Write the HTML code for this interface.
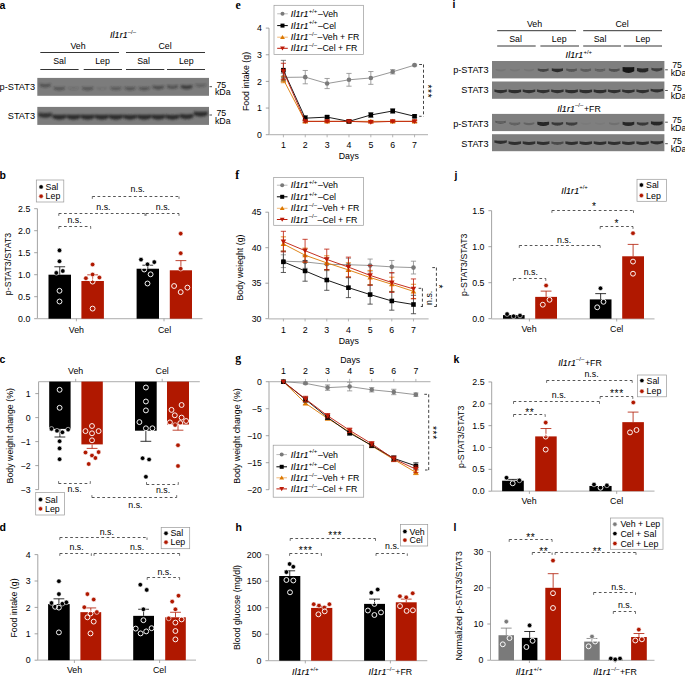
<!DOCTYPE html>
<html><head><meta charset="utf-8"><style>
html,body{margin:0;padding:0;background:#fff;}
body{width:685px;height:677px;overflow:hidden;font-family:"Liberation Sans",sans-serif;}
svg{display:block;}
</style></head><body>
<svg width="685" height="677" viewBox="0 0 685 677" font-family="Liberation Sans, sans-serif" font-size="8.8">
<rect width="685" height="677" fill="#fff"/>
<defs><filter id="bl" x="-20%" y="-50%" width="140%" height="200%"><feGaussianBlur stdDeviation="0.75"/></filter><filter id="bl2" x="-20%" y="-80%" width="140%" height="260%"><feGaussianBlur stdDeviation="1.05"/></filter></defs>
<text x="-0.5" y="8.6" font-weight="bold" font-size="10.5">a</text>
<text x="123" y="38" text-anchor="middle"><tspan font-style="italic" stroke="#000" stroke-width="0.12" letter-spacing="0.15">Il1r1</tspan><tspan dy="-4.2" font-size="5.98">&#8211;/&#8211;</tspan><tspan dy="4.2" dx="0.6"></tspan></text>
<text x="78" y="49" text-anchor="middle">Veh</text>
<text x="165" y="49" text-anchor="middle">Cel</text>
<line x1="40.3" y1="52.5" x2="119" y2="52.5" stroke="#000" stroke-width="0.8"/>
<line x1="126" y1="52.5" x2="205" y2="52.5" stroke="#000" stroke-width="0.8"/>
<text x="59.5" y="63.7" text-anchor="middle">Sal</text>
<text x="102.5" y="63.7" text-anchor="middle">Lep</text>
<text x="143.5" y="63.7" text-anchor="middle">Sal</text>
<text x="186.3" y="63.7" text-anchor="middle">Lep</text>
<line x1="40.3" y1="69.5" x2="78.6" y2="69.5" stroke="#000" stroke-width="0.8"/>
<line x1="83.7" y1="69.5" x2="122" y2="69.5" stroke="#000" stroke-width="0.8"/>
<line x1="126" y1="69.5" x2="164.3" y2="69.5" stroke="#000" stroke-width="0.8"/>
<line x1="167" y1="69.5" x2="205" y2="69.5" stroke="#000" stroke-width="0.8"/>
<rect x="37.3" y="77.9" width="171.7" height="17.9" fill="#7c7c7c"/>
<g filter="url(#bl2)">
<path d="M39.64 83.61 Q45.2 84.69 50.76 83.61 L50.76 85.99 Q45.2 88.91 39.64 85.99 Z" fill="#262626" fill-opacity="0.5"/>
<path d="M53.8 86.63 Q59.34 87.72 64.88 86.63 L64.88 88.97 Q59.34 91.88 53.8 88.97 Z" fill="#262626" fill-opacity="0.48"/>
<path d="M68.21 86.87 Q73.48 88.14 78.75 86.87 L78.75 88.73 Q73.48 91.46 68.21 88.73 Z" fill="#262626" fill-opacity="0.18"/>
<path d="M82.08 86.63 Q87.62 87.72 93.16 86.63 L93.16 88.97 Q87.62 91.88 82.08 88.97 Z" fill="#262626" fill-opacity="0.48"/>
<path d="M96.54 86.91 Q101.76 88.22 106.98 86.91 L106.98 88.69 Q101.76 91.38 96.54 88.69 Z" fill="#262626" fill-opacity="0.12"/>
<path d="M110.43 86.69 Q115.9 87.83 121.37 86.69 L121.37 88.91 Q115.9 91.77 110.43 88.91 Z" fill="#262626" fill-opacity="0.4"/>
<path d="M124.53 86.65 Q130.04 87.76 135.55 86.65 L135.55 88.95 Q130.04 91.84 124.53 88.95 Z" fill="#262626" fill-opacity="0.45"/>
<path d="M138.67 86.65 Q144.18 87.76 149.69 86.65 L149.69 88.95 Q144.18 91.84 138.67 88.95 Z" fill="#262626" fill-opacity="0.45"/>
<path d="M152.69 85.55 Q158.32 86.58 163.95 85.55 L163.95 88.05 Q158.32 91.02 152.69 88.05 Z" fill="#262626" fill-opacity="0.58"/>
<path d="M166.9 85.11 Q172.46 86.19 178.02 85.11 L178.02 87.49 Q172.46 90.41 166.9 87.49 Z" fill="#262626" fill-opacity="0.5"/>
<path d="M180.82 84.91 Q186.6 85.84 192.38 84.91 L192.38 87.69 Q186.6 90.76 180.82 87.69 Z" fill="#262626" fill-opacity="0.75"/>
<path d="M195.32 83.73 Q200.74 84.9 206.16 83.73 L206.16 85.87 Q200.74 88.7 195.32 85.87 Z" fill="#262626" fill-opacity="0.35"/>
</g>
<rect x="37.3" y="106.9" width="171.7" height="18" fill="#7c7c7c"/>
<g filter="url(#bl2)">
<path d="M38.5 112.82 Q45.2 113.5 51.9 112.82 L51.9 116.18 Q45.2 119.5 38.5 116.18 Z" fill="#262626" fill-opacity="0.85"/>
<path d="M52.53 114.52 Q59.34 115.14 66.15 114.52 L66.15 118.08 Q59.34 121.46 52.53 118.08 Z" fill="#262626" fill-opacity="0.95"/>
<path d="M66.67 114.52 Q73.48 115.14 80.29 114.52 L80.29 118.08 Q73.48 121.46 66.67 118.08 Z" fill="#262626" fill-opacity="0.95"/>
<path d="M80.81 114.52 Q87.62 115.14 94.43 114.52 L94.43 118.08 Q87.62 121.46 80.81 118.08 Z" fill="#262626" fill-opacity="0.95"/>
<path d="M94.95 114.52 Q101.76 115.14 108.57 114.52 L108.57 118.08 Q101.76 121.46 94.95 118.08 Z" fill="#262626" fill-opacity="0.95"/>
<path d="M109.09 114.52 Q115.9 115.14 122.71 114.52 L122.71 118.08 Q115.9 121.46 109.09 118.08 Z" fill="#262626" fill-opacity="0.95"/>
<path d="M123.28 114.57 Q130.04 115.22 136.8 114.57 L136.8 118.03 Q130.04 121.38 123.28 118.03 Z" fill="#262626" fill-opacity="0.9"/>
<path d="M137.37 114.52 Q144.18 115.14 150.99 114.52 L150.99 118.08 Q144.18 121.46 137.37 118.08 Z" fill="#262626" fill-opacity="0.95"/>
<path d="M151.51 114.52 Q158.32 115.14 165.13 114.52 L165.13 118.08 Q158.32 121.46 151.51 118.08 Z" fill="#262626" fill-opacity="0.95"/>
<path d="M165.7 114.57 Q172.46 115.22 179.22 114.57 L179.22 118.03 Q172.46 121.38 165.7 118.03 Z" fill="#262626" fill-opacity="0.9"/>
<path d="M179.84 114.07 Q186.6 114.72 193.36 114.07 L193.36 117.53 Q186.6 120.88 179.84 117.53 Z" fill="#262626" fill-opacity="0.9"/>
<path d="M193.93 111.52 Q200.74 112.14 207.55 111.52 L207.55 115.08 Q200.74 118.46 193.93 115.08 Z" fill="#262626" fill-opacity="0.95"/>
</g>
<text x="35" y="90" text-anchor="end" font-size="9.2">p-STAT3</text>
<text x="35" y="119" text-anchor="end" font-size="9.2">STAT3</text>
<line x1="209.4" y1="86.7" x2="212" y2="86.7" stroke="#222" stroke-width="0.8"/>
<text x="216.4" y="87.7">75</text>
<text x="214.9" y="95.2">kDa</text>
<line x1="209.4" y1="115" x2="212" y2="115" stroke="#222" stroke-width="0.8"/>
<text x="216.4" y="116">75</text>
<text x="214.9" y="123.6">kDa</text>
<text x="452.5" y="8" font-weight="bold" font-size="10.5">i</text>
<text x="534.5" y="27.2" text-anchor="middle">Veh</text>
<text x="622" y="27.2" text-anchor="middle">Cel</text>
<line x1="497.2" y1="30.7" x2="576" y2="30.7" stroke="#000" stroke-width="0.8"/>
<line x1="583.2" y1="30.7" x2="662" y2="30.7" stroke="#000" stroke-width="0.8"/>
<text x="515.6" y="42" text-anchor="middle">Sal</text>
<text x="559.2" y="42" text-anchor="middle">Lep</text>
<text x="600" y="42" text-anchor="middle">Sal</text>
<text x="642.9" y="42" text-anchor="middle">Lep</text>
<line x1="497.2" y1="46" x2="535.7" y2="46" stroke="#000" stroke-width="0.8"/>
<line x1="540.4" y1="46" x2="579" y2="46" stroke="#000" stroke-width="0.8"/>
<line x1="583.2" y1="46" x2="621" y2="46" stroke="#000" stroke-width="0.8"/>
<line x1="623.8" y1="46" x2="662" y2="46" stroke="#000" stroke-width="0.8"/>
<text x="578.8" y="58.4" text-anchor="middle"><tspan font-style="italic" stroke="#000" stroke-width="0.12" letter-spacing="0.15">Il1r1</tspan><tspan dy="-4.2" font-size="5.98">+/+</tspan><tspan dy="4.2" dx="0.6"></tspan></text>
<rect x="492" y="61" width="172.4" height="17.4" fill="#7f7f7f"/>
<g filter="url(#bl)">
<path d="M495.58 68.73 Q500.6 70.13 505.62 68.73 L505.62 70.27 Q500.6 72.87 495.58 70.27 Z" fill="#141414" fill-opacity="0.08"/>
<path d="M509.79 68.74 Q514.8 70.14 519.81 68.74 L519.81 70.26 Q514.8 72.86 509.79 70.26 Z" fill="#141414" fill-opacity="0.07"/>
<path d="M523.98 68.73 Q529 70.13 534.02 68.73 L534.02 70.27 Q529 72.87 523.98 70.27 Z" fill="#141414" fill-opacity="0.08"/>
<path d="M537.77 68.4 Q543.2 69.54 548.63 68.4 L548.63 70.6 Q543.2 73.46 537.77 70.6 Z" fill="#141414" fill-opacity="0.55"/>
<path d="M551.8 68.25 Q557.4 69.28 563 68.25 L563 70.75 Q557.4 73.72 551.8 70.75 Z" fill="#141414" fill-opacity="0.75"/>
<path d="M566.3 68.5 Q571.6 69.73 576.9 68.5 L576.9 70.5 Q571.6 73.27 566.3 70.5 Z" fill="#141414" fill-opacity="0.4"/>
<path d="M580.55 68.54 Q585.8 69.79 591.05 68.54 L591.05 70.46 Q585.8 73.21 580.55 70.46 Z" fill="#141414" fill-opacity="0.35"/>
<path d="M594.79 68.57 Q600 69.85 605.21 68.57 L605.21 70.43 Q600 73.15 594.79 70.43 Z" fill="#141414" fill-opacity="0.3"/>
<path d="M608.86 68.47 Q614.2 69.66 619.54 68.47 L619.54 70.53 Q614.2 73.34 608.86 70.53 Z" fill="#141414" fill-opacity="0.45"/>
<path d="M622.58 67.03 Q628.4 67.43 634.22 67.03 L634.22 71.17 Q628.4 74.77 622.58 71.17 Z" fill="#141414" fill-opacity="1"/>
<path d="M636.95 68.09 Q642.6 68.99 648.25 68.09 L648.25 70.91 Q642.6 74.01 636.95 70.91 Z" fill="#141414" fill-opacity="0.8"/>
<path d="M651.33 67.76 Q656.8 68.87 662.27 67.76 L662.27 70.04 Q656.8 72.93 651.33 70.04 Z" fill="#141414" fill-opacity="0.6"/>
</g>
<rect x="492" y="81.5" width="172.4" height="17.3" fill="#7f7f7f"/>
<g filter="url(#bl)">
<path d="M494.34 89.54 Q500.6 90.64 506.86 89.54 L506.86 91.86 Q500.6 94.76 494.34 91.86 Z" fill="#141414" fill-opacity="0.72"/>
<path d="M508.51 89.52 Q514.8 90.61 521.09 89.52 L521.09 91.88 Q514.8 94.79 508.51 91.88 Z" fill="#141414" fill-opacity="0.75"/>
<path d="M522.74 89.54 Q529 90.64 535.26 89.54 L535.26 91.86 Q529 94.76 522.74 91.86 Z" fill="#141414" fill-opacity="0.72"/>
<path d="M536.94 89.54 Q543.2 90.64 549.46 89.54 L549.46 91.86 Q543.2 94.76 536.94 91.86 Z" fill="#141414" fill-opacity="0.72"/>
<path d="M551.14 89.54 Q557.4 90.64 563.66 89.54 L563.66 91.86 Q557.4 94.76 551.14 91.86 Z" fill="#141414" fill-opacity="0.72"/>
<path d="M565.31 89.52 Q571.6 90.61 577.89 89.52 L577.89 91.88 Q571.6 94.79 565.31 91.88 Z" fill="#141414" fill-opacity="0.75"/>
<path d="M579.51 89.52 Q585.8 90.61 592.09 89.52 L592.09 91.88 Q585.8 94.79 579.51 91.88 Z" fill="#141414" fill-opacity="0.75"/>
<path d="M593.71 89.52 Q600 90.61 606.29 89.52 L606.29 91.88 Q600 94.79 593.71 91.88 Z" fill="#141414" fill-opacity="0.75"/>
<path d="M607.94 89.54 Q614.2 90.64 620.46 89.54 L620.46 91.86 Q614.2 94.76 607.94 91.86 Z" fill="#141414" fill-opacity="0.72"/>
<path d="M622.14 89.54 Q628.4 90.64 634.66 89.54 L634.66 91.86 Q628.4 94.76 622.14 91.86 Z" fill="#141414" fill-opacity="0.72"/>
<path d="M636.34 89.54 Q642.6 90.64 648.86 89.54 L648.86 91.86 Q642.6 94.76 636.34 91.86 Z" fill="#141414" fill-opacity="0.72"/>
<path d="M650.54 88.74 Q656.8 89.84 663.06 88.74 L663.06 91.06 Q656.8 93.96 650.54 91.06 Z" fill="#141414" fill-opacity="0.72"/>
</g>
<text x="579" y="111.5" text-anchor="middle"><tspan font-style="italic" stroke="#000" stroke-width="0.12" letter-spacing="0.15">Il1r1</tspan><tspan dy="-4.2" font-size="5.98">&#8211;/&#8211;</tspan><tspan dy="4.2" dx="0.6">+FR</tspan></text>
<rect x="492" y="113.9" width="172.4" height="17.2" fill="#7f7f7f"/>
<g filter="url(#bl)">
<path d="M495.2 120.67 Q500.6 121.95 506 120.67 L506 122.53 Q500.6 125.25 495.2 122.53 Z" fill="#141414" fill-opacity="0.3"/>
<path d="M509.4 122.17 Q514.8 123.45 520.2 122.17 L520.2 124.03 Q514.8 126.75 509.4 124.03 Z" fill="#141414" fill-opacity="0.3"/>
<path d="M523.67 122.23 Q529 123.55 534.33 122.23 L534.33 123.97 Q529 126.65 523.67 123.97 Z" fill="#141414" fill-opacity="0.22"/>
<path d="M537.3 121.78 Q543.2 122.76 549.1 121.78 L549.1 124.42 Q543.2 127.44 537.3 124.42 Z" fill="#141414" fill-opacity="0.85"/>
<path d="M551.68 121.92 Q557.4 123.01 563.12 121.92 L563.12 124.28 Q557.4 127.19 551.68 124.28 Z" fill="#141414" fill-opacity="0.65"/>
<path d="M565.93 121.96 Q571.6 123.07 577.27 121.96 L577.27 124.24 Q571.6 127.13 565.93 124.24 Z" fill="#141414" fill-opacity="0.6"/>
<path d="M580.63 122.36 Q585.8 123.78 590.97 122.36 L590.97 123.84 Q585.8 126.42 580.63 123.84 Z" fill="#141414" fill-opacity="0.04"/>
<path d="M594.83 122.36 Q600 123.78 605.17 122.36 L605.17 123.84 Q600 126.42 594.83 123.84 Z" fill="#141414" fill-opacity="0.04"/>
<path d="M608.96 122.3 Q614.2 123.68 619.44 122.3 L619.44 123.9 Q614.2 126.52 608.96 123.9 Z" fill="#141414" fill-opacity="0.12"/>
<path d="M622.55 121.82 Q628.4 122.82 634.25 121.82 L634.25 124.38 Q628.4 127.38 622.55 124.38 Z" fill="#141414" fill-opacity="0.8"/>
<path d="M636.88 121.92 Q642.6 123.01 648.32 121.92 L648.32 124.28 Q642.6 127.19 636.88 124.28 Z" fill="#141414" fill-opacity="0.65"/>
<path d="M650.95 121.32 Q656.8 122.32 662.65 121.32 L662.65 123.88 Q656.8 126.88 650.95 123.88 Z" fill="#141414" fill-opacity="0.8"/>
</g>
<rect x="492" y="134.2" width="172.4" height="17" fill="#7f7f7f"/>
<g filter="url(#bl)">
<path d="M494.34 140.14 Q500.6 141.24 506.86 140.14 L506.86 142.46 Q500.6 145.36 494.34 142.46 Z" fill="#141414" fill-opacity="0.72"/>
<path d="M508.54 141.34 Q514.8 142.44 521.06 141.34 L521.06 143.66 Q514.8 146.56 508.54 143.66 Z" fill="#141414" fill-opacity="0.72"/>
<path d="M522.74 141.34 Q529 142.44 535.26 141.34 L535.26 143.66 Q529 146.56 522.74 143.66 Z" fill="#141414" fill-opacity="0.72"/>
<path d="M536.94 141.34 Q543.2 142.44 549.46 141.34 L549.46 143.66 Q543.2 146.56 536.94 143.66 Z" fill="#141414" fill-opacity="0.72"/>
<path d="M551.36 141.49 Q557.4 142.7 563.44 141.49 L563.44 143.51 Q557.4 146.3 551.36 143.51 Z" fill="#141414" fill-opacity="0.5"/>
<path d="M565.34 141.34 Q571.6 142.44 577.86 141.34 L577.86 143.66 Q571.6 146.56 565.34 143.66 Z" fill="#141414" fill-opacity="0.72"/>
<path d="M579.54 141.34 Q585.8 142.44 592.06 141.34 L592.06 143.66 Q585.8 146.56 579.54 143.66 Z" fill="#141414" fill-opacity="0.72"/>
<path d="M593.74 141.34 Q600 142.44 606.26 141.34 L606.26 143.66 Q600 146.56 593.74 143.66 Z" fill="#141414" fill-opacity="0.72"/>
<path d="M607.94 141.34 Q614.2 142.44 620.46 141.34 L620.46 143.66 Q614.2 146.56 607.94 143.66 Z" fill="#141414" fill-opacity="0.72"/>
<path d="M622.14 141.34 Q628.4 142.44 634.66 141.34 L634.66 143.66 Q628.4 146.56 622.14 143.66 Z" fill="#141414" fill-opacity="0.72"/>
<path d="M636.34 141.34 Q642.6 142.44 648.86 141.34 L648.86 143.66 Q642.6 146.56 636.34 143.66 Z" fill="#141414" fill-opacity="0.72"/>
<path d="M650.54 140.74 Q656.8 141.84 663.06 140.74 L663.06 143.06 Q656.8 145.96 650.54 143.06 Z" fill="#141414" fill-opacity="0.72"/>
</g>
<text x="488.6" y="72.5" text-anchor="end" font-size="9.2">p-STAT3</text>
<text x="488.6" y="93.3" text-anchor="end" font-size="9.2">STAT3</text>
<text x="488.6" y="127.3" text-anchor="end" font-size="9.2">p-STAT3</text>
<text x="488.6" y="146.8" text-anchor="end" font-size="9.2">STAT3</text>
<line x1="665.2" y1="69.8" x2="667.8" y2="69.8" stroke="#222" stroke-width="0.8"/>
<text x="672.2" y="67.6">75</text>
<text x="670.7" y="75.7">kDa</text>
<line x1="665.2" y1="90.5" x2="667.8" y2="90.5" stroke="#222" stroke-width="0.8"/>
<text x="672.2" y="91.2">75</text>
<text x="670.7" y="99.1">kDa</text>
<line x1="665.2" y1="122.2" x2="667.8" y2="122.2" stroke="#222" stroke-width="0.8"/>
<text x="672.2" y="123">75</text>
<text x="670.7" y="131">kDa</text>
<line x1="665.2" y1="143.7" x2="667.8" y2="143.7" stroke="#222" stroke-width="0.8"/>
<text x="672.2" y="144.4">75</text>
<text x="670.7" y="152.2">kDa</text>
<text x="-0.5" y="179" font-weight="bold" font-size="10.5">b</text>
<line x1="37.4" y1="208.7" x2="37.4" y2="318.7" stroke="#8c8c8c" stroke-width="0.8"/>
<line x1="34.2" y1="318.7" x2="37.4" y2="318.7" stroke="#8c8c8c" stroke-width="0.8"/>
<text x="30.3" y="321.8" text-anchor="end">0.0</text>
<line x1="34.2" y1="296.7" x2="37.4" y2="296.7" stroke="#8c8c8c" stroke-width="0.8"/>
<text x="30.3" y="299.8" text-anchor="end">0.5</text>
<line x1="34.2" y1="274.7" x2="37.4" y2="274.7" stroke="#8c8c8c" stroke-width="0.8"/>
<text x="30.3" y="277.8" text-anchor="end">1.0</text>
<line x1="34.2" y1="252.7" x2="37.4" y2="252.7" stroke="#8c8c8c" stroke-width="0.8"/>
<text x="30.3" y="255.8" text-anchor="end">1.5</text>
<line x1="34.2" y1="230.7" x2="37.4" y2="230.7" stroke="#8c8c8c" stroke-width="0.8"/>
<text x="30.3" y="233.8" text-anchor="end">2.0</text>
<line x1="34.2" y1="208.7" x2="37.4" y2="208.7" stroke="#8c8c8c" stroke-width="0.8"/>
<text x="30.3" y="211.8" text-anchor="end">2.5</text>
<line x1="37.4" y1="318.7" x2="202.5" y2="318.7" stroke="#bdbdbd" stroke-width="1.2"/>
<line x1="76.4" y1="318.7" x2="76.4" y2="321.3" stroke="#888" stroke-width="0.7"/>
<line x1="164" y1="318.7" x2="164" y2="321.3" stroke="#888" stroke-width="0.7"/>
<text x="76.4" y="333" text-anchor="middle">Veh</text>
<text x="164.5" y="333" text-anchor="middle">Cel</text>
<text x="11.3" y="264" text-anchor="middle" transform="rotate(-90 11.3 264)">p-STAT3/STAT3</text>
<rect x="48.5" y="274.7" width="22.5" height="44" fill="#000"/>
<line x1="59.75" y1="274.7" x2="59.75" y2="266.78" stroke="#000" stroke-width="0.8"/>
<line x1="54.35" y1="266.78" x2="65.15" y2="266.78" stroke="#000" stroke-width="0.8"/>
<circle cx="59.5" cy="250.4" r="2.3" fill="#000" stroke="#fff" stroke-width="0.6"/>
<circle cx="59.5" cy="261.3" r="2.3" fill="#000" stroke="#fff" stroke-width="0.6"/>
<circle cx="62.8" cy="271" r="2.3" fill="#000" stroke="#fff" stroke-width="0.6"/>
<circle cx="56.3" cy="272.9" r="2.3" fill="#000" stroke="#fff" stroke-width="0.6"/>
<circle cx="59.5" cy="290.8" r="2.45" fill="none" stroke="#fff" stroke-width="0.95"/>
<circle cx="59.5" cy="301.5" r="2.45" fill="none" stroke="#fff" stroke-width="0.95"/>
<rect x="81.4" y="280.99" width="22.5" height="37.71" fill="#b01800"/>
<line x1="92.65" y1="280.99" x2="92.65" y2="274.83" stroke="#b01800" stroke-width="0.8"/>
<line x1="87.25" y1="274.83" x2="98.05" y2="274.83" stroke="#b01800" stroke-width="0.8"/>
<circle cx="92.6" cy="264.5" r="2.3" fill="#b01800" stroke="#fff" stroke-width="0.6"/>
<circle cx="92.6" cy="274.5" r="2.3" fill="#b01800" stroke="#fff" stroke-width="0.6"/>
<circle cx="85.9" cy="278.2" r="2.3" fill="#b01800" stroke="#fff" stroke-width="0.6"/>
<circle cx="99.4" cy="277.5" r="2.3" fill="#b01800" stroke="#fff" stroke-width="0.6"/>
<circle cx="92.6" cy="281.6" r="2.45" fill="none" stroke="#fff" stroke-width="0.95"/>
<circle cx="92.6" cy="308.6" r="2.45" fill="none" stroke="#fff" stroke-width="0.95"/>
<rect x="136.6" y="268.72" width="22.4" height="49.98" fill="#000"/>
<line x1="147.8" y1="268.72" x2="147.8" y2="265.2" stroke="#000" stroke-width="0.8"/>
<line x1="142.4" y1="265.2" x2="153.2" y2="265.2" stroke="#000" stroke-width="0.8"/>
<circle cx="141" cy="259.6" r="2.3" fill="#000" stroke="#fff" stroke-width="0.6"/>
<circle cx="154.3" cy="262.1" r="2.3" fill="#000" stroke="#fff" stroke-width="0.6"/>
<circle cx="147.5" cy="264.3" r="2.3" fill="#000" stroke="#fff" stroke-width="0.6"/>
<circle cx="144.2" cy="269.5" r="2.45" fill="none" stroke="#fff" stroke-width="0.95"/>
<circle cx="150.6" cy="274.3" r="2.45" fill="none" stroke="#fff" stroke-width="0.95"/>
<circle cx="147.5" cy="283.5" r="2.45" fill="none" stroke="#fff" stroke-width="0.95"/>
<rect x="169.8" y="270.3" width="22.2" height="48.4" fill="#b01800"/>
<line x1="180.9" y1="270.3" x2="180.9" y2="260.62" stroke="#b01800" stroke-width="0.8"/>
<line x1="175.5" y1="260.62" x2="186.3" y2="260.62" stroke="#b01800" stroke-width="0.8"/>
<circle cx="180.7" cy="233.6" r="2.3" fill="#b01800" stroke="#fff" stroke-width="0.6"/>
<circle cx="180.7" cy="253.2" r="2.3" fill="#b01800" stroke="#fff" stroke-width="0.6"/>
<circle cx="180.7" cy="268.7" r="2.3" fill="#b01800" stroke="#fff" stroke-width="0.6"/>
<circle cx="174.1" cy="286" r="2.45" fill="none" stroke="#fff" stroke-width="0.95"/>
<circle cx="180.7" cy="292.1" r="2.45" fill="none" stroke="#fff" stroke-width="0.95"/>
<circle cx="187.4" cy="287.6" r="2.45" fill="none" stroke="#fff" stroke-width="0.95"/>
<line x1="92.3" y1="196.5" x2="179" y2="196.5" stroke="#444" stroke-width="0.9" stroke-dasharray="2.7,2.5"/>
<line x1="92.3" y1="196.5" x2="92.3" y2="198.9" stroke="#444" stroke-width="0.75"/>
<line x1="179" y1="196.5" x2="179" y2="198.9" stroke="#444" stroke-width="0.75"/>
<text x="137.7" y="192" text-anchor="middle">n.s.</text>
<line x1="58.8" y1="213.5" x2="145" y2="213.5" stroke="#444" stroke-width="0.9" stroke-dasharray="2.7,2.5"/>
<line x1="58.8" y1="213.5" x2="58.8" y2="215.9" stroke="#444" stroke-width="0.75"/>
<line x1="145" y1="213.5" x2="145" y2="215.9" stroke="#444" stroke-width="0.75"/>
<text x="103.4" y="209.5" text-anchor="middle">n.s.</text>
<line x1="146" y1="213.5" x2="179" y2="213.5" stroke="#444" stroke-width="0.9" stroke-dasharray="2.7,2.5"/>
<line x1="146" y1="213.5" x2="146" y2="215.9" stroke="#444" stroke-width="0.75"/>
<line x1="179" y1="213.5" x2="179" y2="215.9" stroke="#444" stroke-width="0.75"/>
<text x="162.9" y="209.5" text-anchor="middle">n.s.</text>
<line x1="58.8" y1="226.5" x2="90.7" y2="226.5" stroke="#444" stroke-width="0.9" stroke-dasharray="2.7,2.5"/>
<line x1="58.8" y1="226.5" x2="58.8" y2="228.9" stroke="#444" stroke-width="0.75"/>
<line x1="90.7" y1="226.5" x2="90.7" y2="228.9" stroke="#444" stroke-width="0.75"/>
<text x="74.5" y="222.5" text-anchor="middle">n.s.</text>
<rect x="36.3" y="180" width="27.5" height="22" fill="#fff" stroke="#999" stroke-width="0.7"/>
<circle cx="41.1" cy="186.9" r="2.2" fill="#000" stroke="#fff" stroke-width="0.6"/>
<text x="45.6" y="190">Sal</text>
<circle cx="41.1" cy="196.2" r="2.2" fill="#b01800" stroke="#fff" stroke-width="0.6"/>
<text x="45.6" y="199.3">Lep</text>
<text x="-0.5" y="363" font-weight="bold" font-size="10.5">c</text>
<line x1="38.6" y1="381.6" x2="38.6" y2="489.6" stroke="#8c8c8c" stroke-width="0.8"/>
<line x1="35.3" y1="393.6" x2="38.6" y2="393.6" stroke="#8c8c8c" stroke-width="0.8"/>
<text x="30.6" y="396.7" text-anchor="end">1</text>
<line x1="35.3" y1="417.6" x2="38.6" y2="417.6" stroke="#8c8c8c" stroke-width="0.8"/>
<text x="30.6" y="420.7" text-anchor="end">0</text>
<line x1="35.3" y1="441.6" x2="38.6" y2="441.6" stroke="#8c8c8c" stroke-width="0.8"/>
<text x="30.6" y="444.7" text-anchor="end">&#8722;1</text>
<line x1="35.3" y1="465.6" x2="38.6" y2="465.6" stroke="#8c8c8c" stroke-width="0.8"/>
<text x="30.6" y="468.7" text-anchor="end">&#8722;2</text>
<line x1="35.3" y1="489.6" x2="38.6" y2="489.6" stroke="#8c8c8c" stroke-width="0.8"/>
<text x="30.6" y="492.7" text-anchor="end">&#8722;3</text>
<line x1="38.6" y1="381.6" x2="199.8" y2="381.6" stroke="#bdbdbd" stroke-width="1.2"/>
<line x1="75.7" y1="381.6" x2="75.7" y2="378.8" stroke="#888" stroke-width="0.7"/>
<line x1="162.2" y1="381.6" x2="162.2" y2="378.8" stroke="#888" stroke-width="0.7"/>
<text x="75.6" y="374.3" text-anchor="middle">Veh</text>
<text x="162.2" y="374.3" text-anchor="middle">Cel</text>
<text x="12.7" y="435.8" text-anchor="middle" transform="rotate(-90 12.7 435.8)">Body weight change (%)</text>
<rect x="49.2" y="381.6" width="21.4" height="47.3" fill="#000"/>
<line x1="59.9" y1="428.9" x2="59.9" y2="437" stroke="#000" stroke-width="0.8"/>
<line x1="54.5" y1="437" x2="65.3" y2="437" stroke="#000" stroke-width="0.8"/>
<circle cx="59.6" cy="389.8" r="2.45" fill="none" stroke="#fff" stroke-width="0.95"/>
<circle cx="59.6" cy="407.8" r="2.45" fill="none" stroke="#fff" stroke-width="0.95"/>
<circle cx="51.5" cy="428.9" r="2.3" fill="#000" stroke="#fff" stroke-width="0.6"/>
<circle cx="57" cy="430.8" r="2.3" fill="#000" stroke="#fff" stroke-width="0.6"/>
<circle cx="62.4" cy="432.3" r="2.3" fill="#000" stroke="#fff" stroke-width="0.6"/>
<circle cx="68.1" cy="429.6" r="2.3" fill="#000" stroke="#fff" stroke-width="0.6"/>
<circle cx="59.6" cy="441.2" r="2.3" fill="#000" stroke="#fff" stroke-width="0.6"/>
<circle cx="59.6" cy="448.4" r="2.3" fill="#000" stroke="#fff" stroke-width="0.6"/>
<circle cx="59.6" cy="459.2" r="2.3" fill="#000" stroke="#fff" stroke-width="0.6"/>
<rect x="81.4" y="381.6" width="21.4" height="62.8" fill="#b01800"/>
<line x1="92.1" y1="444.4" x2="92.1" y2="448.4" stroke="#b01800" stroke-width="0.8"/>
<line x1="86.7" y1="448.4" x2="97.5" y2="448.4" stroke="#b01800" stroke-width="0.8"/>
<circle cx="92" cy="426" r="2.45" fill="none" stroke="#fff" stroke-width="0.95"/>
<circle cx="85.5" cy="431.1" r="2.45" fill="none" stroke="#fff" stroke-width="0.95"/>
<circle cx="92" cy="433.3" r="2.45" fill="none" stroke="#fff" stroke-width="0.95"/>
<circle cx="98.6" cy="431.1" r="2.45" fill="none" stroke="#fff" stroke-width="0.95"/>
<circle cx="92" cy="440.3" r="2.45" fill="none" stroke="#fff" stroke-width="0.95"/>
<circle cx="85.5" cy="452.5" r="2.3" fill="#b01800" stroke="#fff" stroke-width="0.6"/>
<circle cx="98.6" cy="452.1" r="2.3" fill="#b01800" stroke="#fff" stroke-width="0.6"/>
<circle cx="92" cy="455.5" r="2.3" fill="#b01800" stroke="#fff" stroke-width="0.6"/>
<circle cx="95.4" cy="458" r="2.3" fill="#b01800" stroke="#fff" stroke-width="0.6"/>
<circle cx="88.7" cy="464" r="2.3" fill="#b01800" stroke="#fff" stroke-width="0.6"/>
<rect x="135" y="381.6" width="21.7" height="49.1" fill="#000"/>
<line x1="145.85" y1="430.7" x2="145.85" y2="441.3" stroke="#000" stroke-width="0.8"/>
<line x1="140.45" y1="441.3" x2="151.25" y2="441.3" stroke="#000" stroke-width="0.8"/>
<circle cx="145.9" cy="387.5" r="2.45" fill="none" stroke="#fff" stroke-width="0.95"/>
<circle cx="145.9" cy="401.5" r="2.45" fill="none" stroke="#fff" stroke-width="0.95"/>
<circle cx="145.9" cy="410.4" r="2.45" fill="none" stroke="#fff" stroke-width="0.95"/>
<circle cx="139.4" cy="422.1" r="2.45" fill="none" stroke="#fff" stroke-width="0.95"/>
<circle cx="145.9" cy="428.3" r="2.45" fill="none" stroke="#fff" stroke-width="0.95"/>
<circle cx="152.4" cy="428.3" r="2.45" fill="none" stroke="#fff" stroke-width="0.95"/>
<circle cx="142.6" cy="458.2" r="2.3" fill="#000" stroke="#fff" stroke-width="0.6"/>
<circle cx="149.1" cy="459.5" r="2.3" fill="#000" stroke="#fff" stroke-width="0.6"/>
<circle cx="145.9" cy="476.8" r="2.3" fill="#000" stroke="#fff" stroke-width="0.6"/>
<rect x="167" y="381.6" width="22" height="42.9" fill="#b01800"/>
<line x1="178" y1="424.5" x2="178" y2="430.2" stroke="#b01800" stroke-width="0.8"/>
<line x1="172.6" y1="430.2" x2="183.4" y2="430.2" stroke="#b01800" stroke-width="0.8"/>
<circle cx="181.6" cy="405" r="2.45" fill="none" stroke="#fff" stroke-width="0.95"/>
<circle cx="171.5" cy="409.9" r="2.45" fill="none" stroke="#fff" stroke-width="0.95"/>
<circle cx="174.8" cy="415.3" r="2.45" fill="none" stroke="#fff" stroke-width="0.95"/>
<circle cx="181.6" cy="417.6" r="2.45" fill="none" stroke="#fff" stroke-width="0.95"/>
<circle cx="169.9" cy="422.4" r="2.45" fill="none" stroke="#fff" stroke-width="0.95"/>
<circle cx="180.3" cy="423.1" r="2.45" fill="none" stroke="#fff" stroke-width="0.95"/>
<circle cx="186.1" cy="421" r="2.45" fill="none" stroke="#fff" stroke-width="0.95"/>
<circle cx="175.1" cy="425" r="2.3" fill="#b01800" stroke="#fff" stroke-width="0.6"/>
<circle cx="178" cy="445.2" r="2.3" fill="#b01800" stroke="#fff" stroke-width="0.6"/>
<circle cx="178" cy="466" r="2.3" fill="#b01800" stroke="#fff" stroke-width="0.6"/>
<line x1="58.6" y1="483.5" x2="90.3" y2="483.5" stroke="#444" stroke-width="0.9" stroke-dasharray="2.7,2.5"/>
<line x1="58.6" y1="483.5" x2="58.6" y2="481.1" stroke="#444" stroke-width="0.75"/>
<line x1="90.3" y1="483.5" x2="90.3" y2="481.1" stroke="#444" stroke-width="0.75"/>
<text x="74.5" y="491.5" text-anchor="middle">n.s.</text>
<line x1="146.5" y1="484.5" x2="178.3" y2="484.5" stroke="#444" stroke-width="0.9" stroke-dasharray="2.7,2.5"/>
<line x1="146.5" y1="484.5" x2="146.5" y2="482.1" stroke="#444" stroke-width="0.75"/>
<line x1="178.3" y1="484.5" x2="178.3" y2="482.1" stroke="#444" stroke-width="0.75"/>
<text x="163" y="492.5" text-anchor="middle">n.s.</text>
<line x1="91.9" y1="497.5" x2="176.7" y2="497.5" stroke="#444" stroke-width="0.9" stroke-dasharray="2.7,2.5"/>
<line x1="91.9" y1="497.5" x2="91.9" y2="495.1" stroke="#444" stroke-width="0.75"/>
<line x1="176.7" y1="497.5" x2="176.7" y2="495.1" stroke="#444" stroke-width="0.75"/>
<text x="135.4" y="508.2" text-anchor="middle">n.s.</text>
<rect x="35.7" y="492.6" width="28.8" height="22.4" fill="#fff" stroke="#999" stroke-width="0.7"/>
<circle cx="40.5" cy="499.5" r="2.2" fill="#000" stroke="#fff" stroke-width="0.6"/>
<text x="45" y="502.6">Sal</text>
<circle cx="40.5" cy="508.8" r="2.2" fill="#b01800" stroke="#fff" stroke-width="0.6"/>
<text x="45" y="511.9">Lep</text>
<text x="-0.5" y="531" font-weight="bold" font-size="10.5">d</text>
<line x1="37.8" y1="554.6" x2="37.8" y2="660.2" stroke="#8c8c8c" stroke-width="0.8"/>
<line x1="34.6" y1="660.2" x2="37.8" y2="660.2" stroke="#8c8c8c" stroke-width="0.8"/>
<text x="30.7" y="663.3" text-anchor="end">0</text>
<line x1="34.6" y1="633.8" x2="37.8" y2="633.8" stroke="#8c8c8c" stroke-width="0.8"/>
<text x="30.7" y="636.9" text-anchor="end">1</text>
<line x1="34.6" y1="607.4" x2="37.8" y2="607.4" stroke="#8c8c8c" stroke-width="0.8"/>
<text x="30.7" y="610.5" text-anchor="end">2</text>
<line x1="34.6" y1="581" x2="37.8" y2="581" stroke="#8c8c8c" stroke-width="0.8"/>
<text x="30.7" y="584.1" text-anchor="end">3</text>
<line x1="34.6" y1="554.6" x2="37.8" y2="554.6" stroke="#8c8c8c" stroke-width="0.8"/>
<text x="30.7" y="557.7" text-anchor="end">4</text>
<line x1="37.8" y1="660.2" x2="196" y2="660.2" stroke="#bdbdbd" stroke-width="1.2"/>
<line x1="74.4" y1="660.2" x2="74.4" y2="663" stroke="#888" stroke-width="0.7"/>
<line x1="159.6" y1="660.2" x2="159.6" y2="663" stroke="#888" stroke-width="0.7"/>
<text x="74.5" y="673" text-anchor="middle">Veh</text>
<text x="159.5" y="673" text-anchor="middle">Cel</text>
<text x="17.2" y="608" text-anchor="middle" transform="rotate(-90 17.2 608)">Food intake (g)</text>
<rect x="48.1" y="604.1" width="21.6" height="56.1" fill="#000"/>
<line x1="58.9" y1="604.1" x2="58.9" y2="598.82" stroke="#000" stroke-width="0.8"/>
<line x1="53.5" y1="598.82" x2="64.3" y2="598.82" stroke="#000" stroke-width="0.8"/>
<circle cx="58.9" cy="581.2" r="2.3" fill="#000" stroke="#fff" stroke-width="0.6"/>
<circle cx="58.9" cy="594.1" r="2.3" fill="#000" stroke="#fff" stroke-width="0.6"/>
<circle cx="51.5" cy="603" r="2.3" fill="#000" stroke="#fff" stroke-width="0.6"/>
<circle cx="62.4" cy="603.7" r="2.3" fill="#000" stroke="#fff" stroke-width="0.6"/>
<circle cx="66.4" cy="602.3" r="2.3" fill="#000" stroke="#fff" stroke-width="0.6"/>
<circle cx="55.1" cy="606.8" r="2.45" fill="none" stroke="#fff" stroke-width="0.95"/>
<circle cx="58.9" cy="607.6" r="2.45" fill="none" stroke="#fff" stroke-width="0.95"/>
<circle cx="58.9" cy="632.4" r="2.45" fill="none" stroke="#fff" stroke-width="0.95"/>
<rect x="80.4" y="612.15" width="20.8" height="48.05" fill="#b01800"/>
<line x1="90.8" y1="612.15" x2="90.8" y2="607.93" stroke="#b01800" stroke-width="0.8"/>
<line x1="85.4" y1="607.93" x2="96.2" y2="607.93" stroke="#b01800" stroke-width="0.8"/>
<circle cx="87.4" cy="594.1" r="2.3" fill="#b01800" stroke="#fff" stroke-width="0.6"/>
<circle cx="93.7" cy="599.5" r="2.3" fill="#b01800" stroke="#fff" stroke-width="0.6"/>
<circle cx="84.3" cy="607.2" r="2.3" fill="#b01800" stroke="#fff" stroke-width="0.6"/>
<circle cx="96.8" cy="612.1" r="2.3" fill="#b01800" stroke="#fff" stroke-width="0.6"/>
<circle cx="90.5" cy="613.5" r="2.45" fill="none" stroke="#fff" stroke-width="0.95"/>
<circle cx="87.4" cy="617.3" r="2.45" fill="none" stroke="#fff" stroke-width="0.95"/>
<circle cx="93.7" cy="621.6" r="2.45" fill="none" stroke="#fff" stroke-width="0.95"/>
<circle cx="90.5" cy="633.4" r="2.45" fill="none" stroke="#fff" stroke-width="0.95"/>
<rect x="133.2" y="615.85" width="20.8" height="44.35" fill="#000"/>
<line x1="143.6" y1="615.85" x2="143.6" y2="609.25" stroke="#000" stroke-width="0.8"/>
<line x1="138.2" y1="609.25" x2="149" y2="609.25" stroke="#000" stroke-width="0.8"/>
<circle cx="140.3" cy="584.7" r="2.3" fill="#000" stroke="#fff" stroke-width="0.6"/>
<circle cx="146.7" cy="589.9" r="2.3" fill="#000" stroke="#fff" stroke-width="0.6"/>
<circle cx="143.4" cy="609.3" r="2.3" fill="#000" stroke="#fff" stroke-width="0.6"/>
<circle cx="143.4" cy="620.2" r="2.45" fill="none" stroke="#fff" stroke-width="0.95"/>
<circle cx="135.7" cy="628.6" r="2.45" fill="none" stroke="#fff" stroke-width="0.95"/>
<circle cx="140.6" cy="633.4" r="2.45" fill="none" stroke="#fff" stroke-width="0.95"/>
<circle cx="146.2" cy="631.4" r="2.45" fill="none" stroke="#fff" stroke-width="0.95"/>
<circle cx="151.6" cy="628.2" r="2.45" fill="none" stroke="#fff" stroke-width="0.95"/>
<rect x="165.2" y="617.3" width="20.6" height="42.9" fill="#b01800"/>
<line x1="175.5" y1="617.3" x2="175.5" y2="612.28" stroke="#b01800" stroke-width="0.8"/>
<line x1="170.1" y1="612.28" x2="180.9" y2="612.28" stroke="#b01800" stroke-width="0.8"/>
<circle cx="178.5" cy="595.7" r="2.3" fill="#b01800" stroke="#fff" stroke-width="0.6"/>
<circle cx="172.2" cy="601.6" r="2.3" fill="#b01800" stroke="#fff" stroke-width="0.6"/>
<circle cx="175.4" cy="609.3" r="2.3" fill="#b01800" stroke="#fff" stroke-width="0.6"/>
<circle cx="168.7" cy="618.4" r="2.3" fill="#b01800" stroke="#fff" stroke-width="0.6"/>
<circle cx="181.6" cy="619.4" r="2.45" fill="none" stroke="#fff" stroke-width="0.95"/>
<circle cx="175.4" cy="622.6" r="2.45" fill="none" stroke="#fff" stroke-width="0.95"/>
<circle cx="175.4" cy="631" r="2.45" fill="none" stroke="#fff" stroke-width="0.95"/>
<circle cx="175.4" cy="639.4" r="2.45" fill="none" stroke="#fff" stroke-width="0.95"/>
<line x1="59.8" y1="537.5" x2="147" y2="537.5" stroke="#444" stroke-width="0.9" stroke-dasharray="2.7,2.5"/>
<line x1="59.8" y1="537.5" x2="59.8" y2="539.9" stroke="#444" stroke-width="0.75"/>
<line x1="147" y1="537.5" x2="147" y2="539.9" stroke="#444" stroke-width="0.75"/>
<text x="106.8" y="534.5" text-anchor="middle">n.s.</text>
<line x1="59.8" y1="553.5" x2="91.3" y2="553.5" stroke="#444" stroke-width="0.9" stroke-dasharray="2.7,2.5"/>
<line x1="59.8" y1="553.5" x2="59.8" y2="555.9" stroke="#444" stroke-width="0.75"/>
<line x1="91.3" y1="553.5" x2="91.3" y2="555.9" stroke="#444" stroke-width="0.75"/>
<text x="76.6" y="549.7" text-anchor="middle">n.s.</text>
<line x1="94" y1="553.5" x2="179.6" y2="553.5" stroke="#444" stroke-width="0.9" stroke-dasharray="2.7,2.5"/>
<line x1="94" y1="553.5" x2="94" y2="555.9" stroke="#444" stroke-width="0.75"/>
<line x1="179.6" y1="553.5" x2="179.6" y2="555.9" stroke="#444" stroke-width="0.75"/>
<text x="137" y="549.7" text-anchor="middle">n.s.</text>
<line x1="147.2" y1="577.5" x2="179.6" y2="577.5" stroke="#444" stroke-width="0.9" stroke-dasharray="2.7,2.5"/>
<line x1="147.2" y1="577.5" x2="147.2" y2="579.9" stroke="#444" stroke-width="0.75"/>
<line x1="179.6" y1="577.5" x2="179.6" y2="579.9" stroke="#444" stroke-width="0.75"/>
<text x="164.5" y="574.5" text-anchor="middle">n.s.</text>
<rect x="161.2" y="527.5" width="28.5" height="21.2" fill="#fff" stroke="#999" stroke-width="0.7"/>
<circle cx="166" cy="533.3" r="2.2" fill="#000" stroke="#fff" stroke-width="0.6"/>
<text x="170.5" y="536.4">Sal</text>
<circle cx="166" cy="542.2" r="2.2" fill="#b01800" stroke="#fff" stroke-width="0.6"/>
<text x="170.5" y="545.3">Lep</text>
<text x="235.6" y="8.5" font-weight="bold" font-family="Liberation Serif" font-size="11.8">e</text>
<line x1="269" y1="28.1" x2="269" y2="134.7" stroke="#8c8c8c" stroke-width="0.8"/>
<line x1="265.8" y1="134.7" x2="269" y2="134.7" stroke="#8c8c8c" stroke-width="0.8"/>
<text x="261.9" y="137.8" text-anchor="end">0</text>
<line x1="265.8" y1="108.05" x2="269" y2="108.05" stroke="#8c8c8c" stroke-width="0.8"/>
<text x="261.9" y="111.15" text-anchor="end">1</text>
<line x1="265.8" y1="81.4" x2="269" y2="81.4" stroke="#8c8c8c" stroke-width="0.8"/>
<text x="261.9" y="84.5" text-anchor="end">2</text>
<line x1="265.8" y1="54.75" x2="269" y2="54.75" stroke="#8c8c8c" stroke-width="0.8"/>
<text x="261.9" y="57.85" text-anchor="end">3</text>
<line x1="265.8" y1="28.1" x2="269" y2="28.1" stroke="#8c8c8c" stroke-width="0.8"/>
<text x="261.9" y="31.2" text-anchor="end">4</text>
<line x1="269" y1="134.7" x2="428" y2="134.7" stroke="#bdbdbd" stroke-width="1.2"/>
<line x1="283.4" y1="134.7" x2="283.4" y2="137.3" stroke="#999" stroke-width="0.7"/>
<text x="283.4" y="148" text-anchor="middle">1</text>
<line x1="305.26" y1="134.7" x2="305.26" y2="137.3" stroke="#999" stroke-width="0.7"/>
<text x="305.26" y="148" text-anchor="middle">2</text>
<line x1="327.12" y1="134.7" x2="327.12" y2="137.3" stroke="#999" stroke-width="0.7"/>
<text x="327.12" y="148" text-anchor="middle">3</text>
<line x1="348.98" y1="134.7" x2="348.98" y2="137.3" stroke="#999" stroke-width="0.7"/>
<text x="348.98" y="148" text-anchor="middle">4</text>
<line x1="370.84" y1="134.7" x2="370.84" y2="137.3" stroke="#999" stroke-width="0.7"/>
<text x="370.84" y="148" text-anchor="middle">5</text>
<line x1="392.7" y1="134.7" x2="392.7" y2="137.3" stroke="#999" stroke-width="0.7"/>
<text x="392.7" y="148" text-anchor="middle">6</text>
<line x1="414.56" y1="134.7" x2="414.56" y2="137.3" stroke="#999" stroke-width="0.7"/>
<text x="414.56" y="148" text-anchor="middle">7</text>
<text x="348.8" y="159" text-anchor="middle">Days</text>
<text x="249" y="81.5" text-anchor="middle" transform="rotate(-90 249 81.5)">Food intake (g)</text>
<line x1="283.4" y1="73.41" x2="283.4" y2="81.4" stroke="#8a8a8a" stroke-width="0.8"/>
<line x1="280.8" y1="73.41" x2="286" y2="73.41" stroke="#8a8a8a" stroke-width="0.8"/>
<line x1="280.8" y1="81.4" x2="286" y2="81.4" stroke="#8a8a8a" stroke-width="0.8"/>
<line x1="305.26" y1="70.47" x2="305.26" y2="83.8" stroke="#8a8a8a" stroke-width="0.8"/>
<line x1="302.66" y1="70.47" x2="307.86" y2="70.47" stroke="#8a8a8a" stroke-width="0.8"/>
<line x1="302.66" y1="83.8" x2="307.86" y2="83.8" stroke="#8a8a8a" stroke-width="0.8"/>
<line x1="327.12" y1="78.47" x2="327.12" y2="88.6" stroke="#8a8a8a" stroke-width="0.8"/>
<line x1="324.52" y1="78.47" x2="329.72" y2="78.47" stroke="#8a8a8a" stroke-width="0.8"/>
<line x1="324.52" y1="88.6" x2="329.72" y2="88.6" stroke="#8a8a8a" stroke-width="0.8"/>
<line x1="348.98" y1="73.41" x2="348.98" y2="86.2" stroke="#8a8a8a" stroke-width="0.8"/>
<line x1="346.38" y1="73.41" x2="351.58" y2="73.41" stroke="#8a8a8a" stroke-width="0.8"/>
<line x1="346.38" y1="86.2" x2="351.58" y2="86.2" stroke="#8a8a8a" stroke-width="0.8"/>
<line x1="370.84" y1="71.54" x2="370.84" y2="84.33" stroke="#8a8a8a" stroke-width="0.8"/>
<line x1="368.24" y1="71.54" x2="373.44" y2="71.54" stroke="#8a8a8a" stroke-width="0.8"/>
<line x1="368.24" y1="84.33" x2="373.44" y2="84.33" stroke="#8a8a8a" stroke-width="0.8"/>
<line x1="392.7" y1="69.67" x2="392.7" y2="73.94" stroke="#8a8a8a" stroke-width="0.8"/>
<line x1="390.1" y1="69.67" x2="395.3" y2="69.67" stroke="#8a8a8a" stroke-width="0.8"/>
<line x1="390.1" y1="73.94" x2="395.3" y2="73.94" stroke="#8a8a8a" stroke-width="0.8"/>
<line x1="414.56" y1="64.34" x2="414.56" y2="65.94" stroke="#8a8a8a" stroke-width="0.8"/>
<line x1="411.96" y1="64.34" x2="417.16" y2="64.34" stroke="#8a8a8a" stroke-width="0.8"/>
<line x1="411.96" y1="65.94" x2="417.16" y2="65.94" stroke="#8a8a8a" stroke-width="0.8"/>
<polyline points="283.4,77.4 305.26,77.14 327.12,83.53 348.98,79.8 370.84,77.94 392.7,71.81 414.56,65.14" fill="none" stroke="#8c8c8c" stroke-width="0.9"/>
<circle cx="283.4" cy="77.4" r="2.3" fill="#7a7a7a"/>
<circle cx="305.26" cy="77.14" r="2.3" fill="#7a7a7a"/>
<circle cx="327.12" cy="83.53" r="2.3" fill="#7a7a7a"/>
<circle cx="348.98" cy="79.8" r="2.3" fill="#7a7a7a"/>
<circle cx="370.84" cy="77.94" r="2.3" fill="#7a7a7a"/>
<circle cx="392.7" cy="71.81" r="2.3" fill="#7a7a7a"/>
<circle cx="414.56" cy="65.14" r="2.3" fill="#7a7a7a"/>
<line x1="283.4" y1="76.34" x2="283.4" y2="82.73" stroke="#dc7800" stroke-width="0.8"/>
<line x1="280.8" y1="76.34" x2="286" y2="76.34" stroke="#dc7800" stroke-width="0.8"/>
<line x1="280.8" y1="82.73" x2="286" y2="82.73" stroke="#dc7800" stroke-width="0.8"/>
<line x1="305.26" y1="120.31" x2="305.26" y2="122.44" stroke="#dc7800" stroke-width="0.8"/>
<line x1="302.66" y1="120.31" x2="307.86" y2="120.31" stroke="#dc7800" stroke-width="0.8"/>
<line x1="302.66" y1="122.44" x2="307.86" y2="122.44" stroke="#dc7800" stroke-width="0.8"/>
<line x1="327.12" y1="120.31" x2="327.12" y2="122.44" stroke="#dc7800" stroke-width="0.8"/>
<line x1="324.52" y1="120.31" x2="329.72" y2="120.31" stroke="#dc7800" stroke-width="0.8"/>
<line x1="324.52" y1="122.44" x2="329.72" y2="122.44" stroke="#dc7800" stroke-width="0.8"/>
<line x1="348.98" y1="120.31" x2="348.98" y2="122.44" stroke="#dc7800" stroke-width="0.8"/>
<line x1="346.38" y1="120.31" x2="351.58" y2="120.31" stroke="#dc7800" stroke-width="0.8"/>
<line x1="346.38" y1="122.44" x2="351.58" y2="122.44" stroke="#dc7800" stroke-width="0.8"/>
<line x1="370.84" y1="120.31" x2="370.84" y2="122.44" stroke="#dc7800" stroke-width="0.8"/>
<line x1="368.24" y1="120.31" x2="373.44" y2="120.31" stroke="#dc7800" stroke-width="0.8"/>
<line x1="368.24" y1="122.44" x2="373.44" y2="122.44" stroke="#dc7800" stroke-width="0.8"/>
<line x1="392.7" y1="120.31" x2="392.7" y2="122.44" stroke="#dc7800" stroke-width="0.8"/>
<line x1="390.1" y1="120.31" x2="395.3" y2="120.31" stroke="#dc7800" stroke-width="0.8"/>
<line x1="390.1" y1="122.44" x2="395.3" y2="122.44" stroke="#dc7800" stroke-width="0.8"/>
<line x1="414.56" y1="120.31" x2="414.56" y2="122.44" stroke="#dc7800" stroke-width="0.8"/>
<line x1="411.96" y1="120.31" x2="417.16" y2="120.31" stroke="#dc7800" stroke-width="0.8"/>
<line x1="411.96" y1="122.44" x2="417.16" y2="122.44" stroke="#dc7800" stroke-width="0.8"/>
<polyline points="283.4,79.53 305.26,121.37 327.12,121.37 348.98,121.37 370.84,121.37 392.7,121.37 414.56,121.37" fill="none" stroke="#dc7800" stroke-width="0.9"/>
<path d="M283.4 76.89L280.64 81.6L286.16 81.6Z" fill="#dc7800"/>
<path d="M305.26 118.73L302.5 123.44L308.02 123.44Z" fill="#dc7800"/>
<path d="M327.12 118.73L324.36 123.44L329.88 123.44Z" fill="#dc7800"/>
<path d="M348.98 118.73L346.22 123.44L351.74 123.44Z" fill="#dc7800"/>
<path d="M370.84 118.73L368.08 123.44L373.6 123.44Z" fill="#dc7800"/>
<path d="M392.7 118.73L389.94 123.44L395.46 123.44Z" fill="#dc7800"/>
<path d="M414.56 118.73L411.8 123.44L417.32 123.44Z" fill="#dc7800"/>
<line x1="283.4" y1="60.35" x2="283.4" y2="80.07" stroke="#555" stroke-width="0.8"/>
<line x1="280.8" y1="60.35" x2="286" y2="60.35" stroke="#555" stroke-width="0.8"/>
<line x1="280.8" y1="80.07" x2="286" y2="80.07" stroke="#555" stroke-width="0.8"/>
<line x1="305.26" y1="115.51" x2="305.26" y2="120.84" stroke="#555" stroke-width="0.8"/>
<line x1="302.66" y1="115.51" x2="307.86" y2="115.51" stroke="#555" stroke-width="0.8"/>
<line x1="302.66" y1="120.84" x2="307.86" y2="120.84" stroke="#555" stroke-width="0.8"/>
<line x1="327.12" y1="115.78" x2="327.12" y2="118.44" stroke="#555" stroke-width="0.8"/>
<line x1="324.52" y1="115.78" x2="329.72" y2="115.78" stroke="#555" stroke-width="0.8"/>
<line x1="324.52" y1="118.44" x2="329.72" y2="118.44" stroke="#555" stroke-width="0.8"/>
<line x1="348.98" y1="120.04" x2="348.98" y2="122.71" stroke="#555" stroke-width="0.8"/>
<line x1="346.38" y1="120.04" x2="351.58" y2="120.04" stroke="#555" stroke-width="0.8"/>
<line x1="346.38" y1="122.71" x2="351.58" y2="122.71" stroke="#555" stroke-width="0.8"/>
<line x1="370.84" y1="112.58" x2="370.84" y2="117.38" stroke="#555" stroke-width="0.8"/>
<line x1="368.24" y1="112.58" x2="373.44" y2="112.58" stroke="#555" stroke-width="0.8"/>
<line x1="368.24" y1="117.38" x2="373.44" y2="117.38" stroke="#555" stroke-width="0.8"/>
<line x1="392.7" y1="108.85" x2="392.7" y2="113.11" stroke="#555" stroke-width="0.8"/>
<line x1="390.1" y1="108.85" x2="395.3" y2="108.85" stroke="#555" stroke-width="0.8"/>
<line x1="390.1" y1="113.11" x2="395.3" y2="113.11" stroke="#555" stroke-width="0.8"/>
<line x1="414.56" y1="114.98" x2="414.56" y2="117.64" stroke="#555" stroke-width="0.8"/>
<line x1="411.96" y1="114.98" x2="417.16" y2="114.98" stroke="#555" stroke-width="0.8"/>
<line x1="411.96" y1="117.64" x2="417.16" y2="117.64" stroke="#555" stroke-width="0.8"/>
<polyline points="283.4,70.21 305.26,118.18 327.12,117.11 348.98,121.37 370.84,114.98 392.7,110.98 414.56,116.31" fill="none" stroke="#000" stroke-width="0.9"/>
<rect x="281.1" y="67.91" width="4.6" height="4.6" fill="#000"/>
<rect x="302.96" y="115.88" width="4.6" height="4.6" fill="#000"/>
<rect x="324.82" y="114.81" width="4.6" height="4.6" fill="#000"/>
<rect x="346.68" y="119.07" width="4.6" height="4.6" fill="#000"/>
<rect x="368.54" y="112.68" width="4.6" height="4.6" fill="#000"/>
<rect x="390.4" y="108.68" width="4.6" height="4.6" fill="#000"/>
<rect x="412.26" y="114.01" width="4.6" height="4.6" fill="#000"/>
<line x1="283.4" y1="63.28" x2="283.4" y2="79.27" stroke="#bd1a08" stroke-width="0.8"/>
<line x1="280.8" y1="63.28" x2="286" y2="63.28" stroke="#bd1a08" stroke-width="0.8"/>
<line x1="280.8" y1="79.27" x2="286" y2="79.27" stroke="#bd1a08" stroke-width="0.8"/>
<line x1="305.26" y1="120.58" x2="305.26" y2="122.17" stroke="#bd1a08" stroke-width="0.8"/>
<line x1="302.66" y1="120.58" x2="307.86" y2="120.58" stroke="#bd1a08" stroke-width="0.8"/>
<line x1="302.66" y1="122.17" x2="307.86" y2="122.17" stroke="#bd1a08" stroke-width="0.8"/>
<line x1="327.12" y1="120.58" x2="327.12" y2="122.17" stroke="#bd1a08" stroke-width="0.8"/>
<line x1="324.52" y1="120.58" x2="329.72" y2="120.58" stroke="#bd1a08" stroke-width="0.8"/>
<line x1="324.52" y1="122.17" x2="329.72" y2="122.17" stroke="#bd1a08" stroke-width="0.8"/>
<line x1="348.98" y1="120.58" x2="348.98" y2="122.17" stroke="#bd1a08" stroke-width="0.8"/>
<line x1="346.38" y1="120.58" x2="351.58" y2="120.58" stroke="#bd1a08" stroke-width="0.8"/>
<line x1="346.38" y1="122.17" x2="351.58" y2="122.17" stroke="#bd1a08" stroke-width="0.8"/>
<line x1="370.84" y1="121.37" x2="370.84" y2="122.97" stroke="#bd1a08" stroke-width="0.8"/>
<line x1="368.24" y1="121.37" x2="373.44" y2="121.37" stroke="#bd1a08" stroke-width="0.8"/>
<line x1="368.24" y1="122.97" x2="373.44" y2="122.97" stroke="#bd1a08" stroke-width="0.8"/>
<line x1="392.7" y1="120.58" x2="392.7" y2="122.17" stroke="#bd1a08" stroke-width="0.8"/>
<line x1="390.1" y1="120.58" x2="395.3" y2="120.58" stroke="#bd1a08" stroke-width="0.8"/>
<line x1="390.1" y1="122.17" x2="395.3" y2="122.17" stroke="#bd1a08" stroke-width="0.8"/>
<line x1="414.56" y1="120.58" x2="414.56" y2="122.17" stroke="#bd1a08" stroke-width="0.8"/>
<line x1="411.96" y1="120.58" x2="417.16" y2="120.58" stroke="#bd1a08" stroke-width="0.8"/>
<line x1="411.96" y1="122.17" x2="417.16" y2="122.17" stroke="#bd1a08" stroke-width="0.8"/>
<polyline points="283.4,71.27 305.26,121.37 327.12,121.37 348.98,121.37 370.84,122.17 392.7,121.37 414.56,121.37" fill="none" stroke="#bd1a08" stroke-width="0.9"/>
<path d="M283.4 73.92L280.64 69.2L286.16 69.2Z" fill="#bd1a08"/>
<path d="M305.26 124.02L302.5 119.3L308.02 119.3Z" fill="#bd1a08"/>
<path d="M327.12 124.02L324.36 119.3L329.88 119.3Z" fill="#bd1a08"/>
<path d="M348.98 124.02L346.22 119.3L351.74 119.3Z" fill="#bd1a08"/>
<path d="M370.84 124.82L368.08 120.1L373.6 120.1Z" fill="#bd1a08"/>
<path d="M392.7 124.02L389.94 119.3L395.46 119.3Z" fill="#bd1a08"/>
<path d="M414.56 124.02L411.8 119.3L417.32 119.3Z" fill="#bd1a08"/>
<line x1="419.2" y1="64.5" x2="422" y2="64.5" stroke="#222" stroke-width="0.85"/>
<line x1="419.2" y1="116.3" x2="421.6" y2="116.3" stroke="#222" stroke-width="0.85"/>
<line x1="423.5" y1="64.5" x2="423.5" y2="116.8" stroke="#222" stroke-width="0.85" stroke-dasharray="3,2.2"/>
<text x="423.9" y="91.4" text-anchor="middle" font-size="10.2" transform="rotate(90 423.9 91.4)" letter-spacing="0.6">***</text>
<rect x="274" y="5.3" width="89.5" height="49.2" fill="#fff" stroke="#999" stroke-width="0.7"/>
<line x1="277.2" y1="13.8" x2="287.8" y2="13.8" stroke="#bbbbbb" stroke-width="1"/>
<circle cx="282.5" cy="13.8" r="2" fill="#7a7a7a"/>
<text x="290.8" y="16.8"><tspan font-style="italic" stroke="#000" stroke-width="0.12" letter-spacing="0.15">Il1r1</tspan><tspan dy="-4.2" font-size="5.98">+/+</tspan><tspan dy="4.2" dx="0.6">&#8211;Veh</tspan></text>
<line x1="277.2" y1="25.6" x2="287.8" y2="25.6" stroke="#000" stroke-width="1"/>
<rect x="280.5" y="23.6" width="4" height="4" fill="#000"/>
<text x="290.8" y="28.6"><tspan font-style="italic" stroke="#000" stroke-width="0.12" letter-spacing="0.15">Il1r1</tspan><tspan dy="-4.2" font-size="5.98">+/+</tspan><tspan dy="4.2" dx="0.6">&#8211;Cel</tspan></text>
<line x1="277.2" y1="37.2" x2="287.8" y2="37.2" stroke="#f0b878" stroke-width="1"/>
<path d="M282.5 34.9L280.1 39L284.9 39Z" fill="#dc7800"/>
<text x="290.8" y="40.2"><tspan font-style="italic" stroke="#000" stroke-width="0.12" letter-spacing="0.15">Il1r1</tspan><tspan dy="-4.2" font-size="5.98">&#8211;/&#8211;</tspan><tspan dy="4.2" dx="0.6">&#8211;Veh + FR</tspan></text>
<line x1="277.2" y1="48.3" x2="287.8" y2="48.3" stroke="#bd1a08" stroke-width="1"/>
<path d="M282.5 50.6L280.1 46.5L284.9 46.5Z" fill="#bd1a08"/>
<text x="290.8" y="51.3"><tspan font-style="italic" stroke="#000" stroke-width="0.12" letter-spacing="0.15">Il1r1</tspan><tspan dy="-4.2" font-size="5.98">&#8211;/&#8211;</tspan><tspan dy="4.2" dx="0.6">&#8211;Cel + FR</tspan></text>
<text x="235.2" y="179.2" font-weight="bold" font-family="Liberation Serif" font-size="11.8">f</text>
<line x1="268.6" y1="212.2" x2="268.6" y2="318.7" stroke="#8c8c8c" stroke-width="0.8"/>
<line x1="265.4" y1="318.7" x2="268.6" y2="318.7" stroke="#8c8c8c" stroke-width="0.8"/>
<text x="261.5" y="321.8" text-anchor="end">30</text>
<line x1="265.4" y1="283.2" x2="268.6" y2="283.2" stroke="#8c8c8c" stroke-width="0.8"/>
<text x="261.5" y="286.3" text-anchor="end">35</text>
<line x1="265.4" y1="247.7" x2="268.6" y2="247.7" stroke="#8c8c8c" stroke-width="0.8"/>
<text x="261.5" y="250.8" text-anchor="end">40</text>
<line x1="265.4" y1="212.2" x2="268.6" y2="212.2" stroke="#8c8c8c" stroke-width="0.8"/>
<text x="261.5" y="215.3" text-anchor="end">45</text>
<line x1="268.6" y1="318.8" x2="428.6" y2="318.8" stroke="#bdbdbd" stroke-width="1.2"/>
<line x1="283.4" y1="318.8" x2="283.4" y2="321.4" stroke="#999" stroke-width="0.7"/>
<text x="283.4" y="332.5" text-anchor="middle">1</text>
<line x1="305.08" y1="318.8" x2="305.08" y2="321.4" stroke="#999" stroke-width="0.7"/>
<text x="305.08" y="332.5" text-anchor="middle">2</text>
<line x1="326.76" y1="318.8" x2="326.76" y2="321.4" stroke="#999" stroke-width="0.7"/>
<text x="326.76" y="332.5" text-anchor="middle">3</text>
<line x1="348.44" y1="318.8" x2="348.44" y2="321.4" stroke="#999" stroke-width="0.7"/>
<text x="348.44" y="332.5" text-anchor="middle">4</text>
<line x1="370.12" y1="318.8" x2="370.12" y2="321.4" stroke="#999" stroke-width="0.7"/>
<text x="370.12" y="332.5" text-anchor="middle">5</text>
<line x1="391.8" y1="318.8" x2="391.8" y2="321.4" stroke="#999" stroke-width="0.7"/>
<text x="391.8" y="332.5" text-anchor="middle">6</text>
<line x1="413.48" y1="318.8" x2="413.48" y2="321.4" stroke="#999" stroke-width="0.7"/>
<text x="413.48" y="332.5" text-anchor="middle">7</text>
<text x="348.8" y="343.5" text-anchor="middle">Days</text>
<text x="242.6" y="267.5" text-anchor="middle" transform="rotate(-90 242.6 267.5)">Body weieght (g)</text>
<line x1="283.4" y1="254.8" x2="283.4" y2="267.58" stroke="#8a8a8a" stroke-width="0.8"/>
<line x1="280.8" y1="254.8" x2="286" y2="254.8" stroke="#8a8a8a" stroke-width="0.8"/>
<line x1="280.8" y1="267.58" x2="286" y2="267.58" stroke="#8a8a8a" stroke-width="0.8"/>
<line x1="305.08" y1="255.51" x2="305.08" y2="268.29" stroke="#8a8a8a" stroke-width="0.8"/>
<line x1="302.48" y1="255.51" x2="307.68" y2="255.51" stroke="#8a8a8a" stroke-width="0.8"/>
<line x1="302.48" y1="268.29" x2="307.68" y2="268.29" stroke="#8a8a8a" stroke-width="0.8"/>
<line x1="326.76" y1="257.92" x2="326.76" y2="270.7" stroke="#8a8a8a" stroke-width="0.8"/>
<line x1="324.16" y1="257.92" x2="329.36" y2="257.92" stroke="#8a8a8a" stroke-width="0.8"/>
<line x1="324.16" y1="270.7" x2="329.36" y2="270.7" stroke="#8a8a8a" stroke-width="0.8"/>
<line x1="348.44" y1="258.35" x2="348.44" y2="271.13" stroke="#8a8a8a" stroke-width="0.8"/>
<line x1="345.84" y1="258.35" x2="351.04" y2="258.35" stroke="#8a8a8a" stroke-width="0.8"/>
<line x1="345.84" y1="271.13" x2="351.04" y2="271.13" stroke="#8a8a8a" stroke-width="0.8"/>
<line x1="370.12" y1="259.06" x2="370.12" y2="271.84" stroke="#8a8a8a" stroke-width="0.8"/>
<line x1="367.52" y1="259.06" x2="372.72" y2="259.06" stroke="#8a8a8a" stroke-width="0.8"/>
<line x1="367.52" y1="271.84" x2="372.72" y2="271.84" stroke="#8a8a8a" stroke-width="0.8"/>
<line x1="391.8" y1="260.48" x2="391.8" y2="273.26" stroke="#8a8a8a" stroke-width="0.8"/>
<line x1="389.2" y1="260.48" x2="394.4" y2="260.48" stroke="#8a8a8a" stroke-width="0.8"/>
<line x1="389.2" y1="273.26" x2="394.4" y2="273.26" stroke="#8a8a8a" stroke-width="0.8"/>
<line x1="413.48" y1="261.19" x2="413.48" y2="273.97" stroke="#8a8a8a" stroke-width="0.8"/>
<line x1="410.88" y1="261.19" x2="416.08" y2="261.19" stroke="#8a8a8a" stroke-width="0.8"/>
<line x1="410.88" y1="273.97" x2="416.08" y2="273.97" stroke="#8a8a8a" stroke-width="0.8"/>
<polyline points="283.4,261.19 305.08,261.9 326.76,264.31 348.44,264.74 370.12,265.45 391.8,266.87 413.48,267.58" fill="none" stroke="#8c8c8c" stroke-width="0.9"/>
<circle cx="283.4" cy="261.19" r="2.3" fill="#7a7a7a"/>
<circle cx="305.08" cy="261.9" r="2.3" fill="#7a7a7a"/>
<circle cx="326.76" cy="264.31" r="2.3" fill="#7a7a7a"/>
<circle cx="348.44" cy="264.74" r="2.3" fill="#7a7a7a"/>
<circle cx="370.12" cy="265.45" r="2.3" fill="#7a7a7a"/>
<circle cx="391.8" cy="266.87" r="2.3" fill="#7a7a7a"/>
<circle cx="413.48" cy="267.58" r="2.3" fill="#7a7a7a"/>
<line x1="283.4" y1="236.84" x2="283.4" y2="251.04" stroke="#dc7800" stroke-width="0.8"/>
<line x1="280.8" y1="236.84" x2="286" y2="236.84" stroke="#dc7800" stroke-width="0.8"/>
<line x1="280.8" y1="251.04" x2="286" y2="251.04" stroke="#dc7800" stroke-width="0.8"/>
<line x1="305.08" y1="248.13" x2="305.08" y2="262.33" stroke="#dc7800" stroke-width="0.8"/>
<line x1="302.48" y1="248.13" x2="307.68" y2="248.13" stroke="#dc7800" stroke-width="0.8"/>
<line x1="302.48" y1="262.33" x2="307.68" y2="262.33" stroke="#dc7800" stroke-width="0.8"/>
<line x1="326.76" y1="255.79" x2="326.76" y2="269.99" stroke="#dc7800" stroke-width="0.8"/>
<line x1="324.16" y1="255.79" x2="329.36" y2="255.79" stroke="#dc7800" stroke-width="0.8"/>
<line x1="324.16" y1="269.99" x2="329.36" y2="269.99" stroke="#dc7800" stroke-width="0.8"/>
<line x1="348.44" y1="262.82" x2="348.44" y2="277.02" stroke="#dc7800" stroke-width="0.8"/>
<line x1="345.84" y1="262.82" x2="351.04" y2="262.82" stroke="#dc7800" stroke-width="0.8"/>
<line x1="345.84" y1="277.02" x2="351.04" y2="277.02" stroke="#dc7800" stroke-width="0.8"/>
<line x1="370.12" y1="270.42" x2="370.12" y2="284.62" stroke="#dc7800" stroke-width="0.8"/>
<line x1="367.52" y1="270.42" x2="372.72" y2="270.42" stroke="#dc7800" stroke-width="0.8"/>
<line x1="367.52" y1="284.62" x2="372.72" y2="284.62" stroke="#dc7800" stroke-width="0.8"/>
<line x1="391.8" y1="277.16" x2="391.8" y2="291.37" stroke="#dc7800" stroke-width="0.8"/>
<line x1="389.2" y1="277.16" x2="394.4" y2="277.16" stroke="#dc7800" stroke-width="0.8"/>
<line x1="389.2" y1="291.37" x2="394.4" y2="291.37" stroke="#dc7800" stroke-width="0.8"/>
<line x1="413.48" y1="284.26" x2="413.48" y2="298.46" stroke="#dc7800" stroke-width="0.8"/>
<line x1="410.88" y1="284.26" x2="416.08" y2="284.26" stroke="#dc7800" stroke-width="0.8"/>
<line x1="410.88" y1="298.46" x2="416.08" y2="298.46" stroke="#dc7800" stroke-width="0.8"/>
<polyline points="283.4,243.94 305.08,255.23 326.76,262.89 348.44,269.92 370.12,277.52 391.8,284.26 413.48,291.37" fill="none" stroke="#dc7800" stroke-width="0.9"/>
<path d="M283.4 241.29L280.64 246.01L286.16 246.01Z" fill="#dc7800"/>
<path d="M305.08 252.58L302.32 257.3L307.84 257.3Z" fill="#dc7800"/>
<path d="M326.76 260.25L324 264.96L329.52 264.96Z" fill="#dc7800"/>
<path d="M348.44 267.28L345.68 271.99L351.2 271.99Z" fill="#dc7800"/>
<path d="M370.12 274.88L367.36 279.59L372.88 279.59Z" fill="#dc7800"/>
<path d="M391.8 281.62L389.04 286.33L394.56 286.33Z" fill="#dc7800"/>
<path d="M413.48 288.72L410.72 293.44L416.24 293.44Z" fill="#dc7800"/>
<line x1="283.4" y1="251.18" x2="283.4" y2="272.48" stroke="#333" stroke-width="0.8"/>
<line x1="280.8" y1="251.18" x2="286" y2="251.18" stroke="#333" stroke-width="0.8"/>
<line x1="280.8" y1="272.48" x2="286" y2="272.48" stroke="#333" stroke-width="0.8"/>
<line x1="305.08" y1="260.62" x2="305.08" y2="281.21" stroke="#333" stroke-width="0.8"/>
<line x1="302.48" y1="260.62" x2="307.68" y2="260.62" stroke="#333" stroke-width="0.8"/>
<line x1="302.48" y1="281.21" x2="307.68" y2="281.21" stroke="#333" stroke-width="0.8"/>
<line x1="326.76" y1="269.71" x2="326.76" y2="290.3" stroke="#333" stroke-width="0.8"/>
<line x1="324.16" y1="269.71" x2="329.36" y2="269.71" stroke="#333" stroke-width="0.8"/>
<line x1="324.16" y1="290.3" x2="329.36" y2="290.3" stroke="#333" stroke-width="0.8"/>
<line x1="348.44" y1="277.73" x2="348.44" y2="297.61" stroke="#333" stroke-width="0.8"/>
<line x1="345.84" y1="277.73" x2="351.04" y2="277.73" stroke="#333" stroke-width="0.8"/>
<line x1="345.84" y1="297.61" x2="351.04" y2="297.61" stroke="#333" stroke-width="0.8"/>
<line x1="370.12" y1="284.97" x2="370.12" y2="304.14" stroke="#333" stroke-width="0.8"/>
<line x1="367.52" y1="284.97" x2="372.72" y2="284.97" stroke="#333" stroke-width="0.8"/>
<line x1="367.52" y1="304.14" x2="372.72" y2="304.14" stroke="#333" stroke-width="0.8"/>
<line x1="391.8" y1="291.72" x2="391.8" y2="310.18" stroke="#333" stroke-width="0.8"/>
<line x1="389.2" y1="291.72" x2="394.4" y2="291.72" stroke="#333" stroke-width="0.8"/>
<line x1="389.2" y1="310.18" x2="394.4" y2="310.18" stroke="#333" stroke-width="0.8"/>
<line x1="413.48" y1="295.27" x2="413.48" y2="313.73" stroke="#333" stroke-width="0.8"/>
<line x1="410.88" y1="295.27" x2="416.08" y2="295.27" stroke="#333" stroke-width="0.8"/>
<line x1="410.88" y1="313.73" x2="416.08" y2="313.73" stroke="#333" stroke-width="0.8"/>
<polyline points="283.4,261.83 305.08,270.92 326.76,280 348.44,287.67 370.12,294.56 391.8,300.95 413.48,304.5" fill="none" stroke="#000" stroke-width="0.9"/>
<rect x="281.1" y="259.53" width="4.6" height="4.6" fill="#000"/>
<rect x="302.78" y="268.62" width="4.6" height="4.6" fill="#000"/>
<rect x="324.46" y="277.7" width="4.6" height="4.6" fill="#000"/>
<rect x="346.14" y="285.37" width="4.6" height="4.6" fill="#000"/>
<rect x="367.82" y="292.26" width="4.6" height="4.6" fill="#000"/>
<rect x="389.5" y="298.65" width="4.6" height="4.6" fill="#000"/>
<rect x="411.18" y="302.2" width="4.6" height="4.6" fill="#000"/>
<line x1="283.4" y1="231.3" x2="283.4" y2="251.89" stroke="#bd1a08" stroke-width="0.8"/>
<line x1="280.8" y1="231.3" x2="286" y2="231.3" stroke="#bd1a08" stroke-width="0.8"/>
<line x1="280.8" y1="251.89" x2="286" y2="251.89" stroke="#bd1a08" stroke-width="0.8"/>
<line x1="305.08" y1="239.32" x2="305.08" y2="262.04" stroke="#bd1a08" stroke-width="0.8"/>
<line x1="302.48" y1="239.32" x2="307.68" y2="239.32" stroke="#bd1a08" stroke-width="0.8"/>
<line x1="302.48" y1="262.04" x2="307.68" y2="262.04" stroke="#bd1a08" stroke-width="0.8"/>
<line x1="326.76" y1="249.12" x2="326.76" y2="269.71" stroke="#bd1a08" stroke-width="0.8"/>
<line x1="324.16" y1="249.12" x2="329.36" y2="249.12" stroke="#bd1a08" stroke-width="0.8"/>
<line x1="324.16" y1="269.71" x2="329.36" y2="269.71" stroke="#bd1a08" stroke-width="0.8"/>
<line x1="348.44" y1="257.14" x2="348.44" y2="277.02" stroke="#bd1a08" stroke-width="0.8"/>
<line x1="345.84" y1="257.14" x2="351.04" y2="257.14" stroke="#bd1a08" stroke-width="0.8"/>
<line x1="345.84" y1="277.02" x2="351.04" y2="277.02" stroke="#bd1a08" stroke-width="0.8"/>
<line x1="370.12" y1="265.45" x2="370.12" y2="285.33" stroke="#bd1a08" stroke-width="0.8"/>
<line x1="367.52" y1="265.45" x2="372.72" y2="265.45" stroke="#bd1a08" stroke-width="0.8"/>
<line x1="367.52" y1="285.33" x2="372.72" y2="285.33" stroke="#bd1a08" stroke-width="0.8"/>
<line x1="391.8" y1="272.55" x2="391.8" y2="292.43" stroke="#bd1a08" stroke-width="0.8"/>
<line x1="389.2" y1="272.55" x2="394.4" y2="272.55" stroke="#bd1a08" stroke-width="0.8"/>
<line x1="389.2" y1="292.43" x2="394.4" y2="292.43" stroke="#bd1a08" stroke-width="0.8"/>
<line x1="413.48" y1="278.94" x2="413.48" y2="298.82" stroke="#bd1a08" stroke-width="0.8"/>
<line x1="410.88" y1="278.94" x2="416.08" y2="278.94" stroke="#bd1a08" stroke-width="0.8"/>
<line x1="410.88" y1="298.82" x2="416.08" y2="298.82" stroke="#bd1a08" stroke-width="0.8"/>
<polyline points="283.4,241.59 305.08,250.68 326.76,259.41 348.44,267.08 370.12,275.39 391.8,282.49 413.48,288.88" fill="none" stroke="#bd1a08" stroke-width="0.9"/>
<path d="M283.4 244.24L280.64 239.52L286.16 239.52Z" fill="#bd1a08"/>
<path d="M305.08 253.33L302.32 248.61L307.84 248.61Z" fill="#bd1a08"/>
<path d="M326.76 262.06L324 257.34L329.52 257.34Z" fill="#bd1a08"/>
<path d="M348.44 269.73L345.68 265.01L351.2 265.01Z" fill="#bd1a08"/>
<path d="M370.12 278.03L367.36 273.32L372.88 273.32Z" fill="#bd1a08"/>
<path d="M391.8 285.13L389.04 280.42L394.56 280.42Z" fill="#bd1a08"/>
<path d="M413.48 291.52L410.72 286.81L416.24 286.81Z" fill="#bd1a08"/>
<line x1="418.6" y1="288.3" x2="421.2" y2="288.3" stroke="#222" stroke-width="0.85"/>
<line x1="420.8" y1="306.5" x2="422.6" y2="306.5" stroke="#222" stroke-width="0.85"/>
<line x1="422.4" y1="288.3" x2="422.4" y2="306.8" stroke="#222" stroke-width="0.85" stroke-dasharray="3,2.2"/>
<text x="432" y="297.8" text-anchor="middle" transform="rotate(-90 432 297.8)">n.s.</text>
<line x1="432.3" y1="267.6" x2="435" y2="267.6" stroke="#222" stroke-width="0.85"/>
<line x1="434.2" y1="306.5" x2="436.4" y2="306.5" stroke="#222" stroke-width="0.85"/>
<line x1="436.4" y1="267.6" x2="436.4" y2="306.8" stroke="#222" stroke-width="0.85" stroke-dasharray="3,2.2"/>
<text x="435.4" y="286.5" text-anchor="middle" font-size="10.2" transform="rotate(90 435.4 286.5)">*</text>
<rect x="273.7" y="177.4" width="89.8" height="47.9" fill="#fff" stroke="#999" stroke-width="0.7"/>
<line x1="276.9" y1="185.2" x2="287.5" y2="185.2" stroke="#bbbbbb" stroke-width="1"/>
<circle cx="282.2" cy="185.2" r="2" fill="#7a7a7a"/>
<text x="290.8" y="188.2"><tspan font-style="italic" stroke="#000" stroke-width="0.12" letter-spacing="0.15">Il1r1</tspan><tspan dy="-4.2" font-size="5.98">+/+</tspan><tspan dy="4.2" dx="0.6">&#8211;Veh</tspan></text>
<line x1="276.9" y1="196.8" x2="287.5" y2="196.8" stroke="#000" stroke-width="1"/>
<rect x="280.2" y="194.8" width="4" height="4" fill="#000"/>
<text x="290.8" y="199.8"><tspan font-style="italic" stroke="#000" stroke-width="0.12" letter-spacing="0.15">Il1r1</tspan><tspan dy="-4.2" font-size="5.98">+/+</tspan><tspan dy="4.2" dx="0.6">&#8211;Cel</tspan></text>
<line x1="276.9" y1="208.3" x2="287.5" y2="208.3" stroke="#f0b878" stroke-width="1"/>
<path d="M282.2 206L279.8 210.1L284.6 210.1Z" fill="#dc7800"/>
<text x="290.8" y="211.3"><tspan font-style="italic" stroke="#000" stroke-width="0.12" letter-spacing="0.15">Il1r1</tspan><tspan dy="-4.2" font-size="5.98">&#8211;/&#8211;</tspan><tspan dy="4.2" dx="0.6">&#8211;Veh + FR</tspan></text>
<line x1="276.9" y1="219.5" x2="287.5" y2="219.5" stroke="#bd1a08" stroke-width="1"/>
<path d="M282.2 221.8L279.8 217.7L284.6 217.7Z" fill="#bd1a08"/>
<text x="290.8" y="222.5"><tspan font-style="italic" stroke="#000" stroke-width="0.12" letter-spacing="0.15">Il1r1</tspan><tspan dy="-4.2" font-size="5.98">&#8211;/&#8211;</tspan><tspan dy="4.2" dx="0.6">&#8211;Cel + FR</tspan></text>
<text x="235.3" y="361.8" font-weight="bold" font-family="Liberation Serif" font-size="11.8">g</text>
<line x1="269" y1="381.7" x2="269" y2="489.7" stroke="#8c8c8c" stroke-width="0.8"/>
<line x1="265.8" y1="489.7" x2="269" y2="489.7" stroke="#8c8c8c" stroke-width="0.8"/>
<text x="261.9" y="492.8" text-anchor="end">&#8722;20</text>
<line x1="265.8" y1="462.7" x2="269" y2="462.7" stroke="#8c8c8c" stroke-width="0.8"/>
<text x="261.9" y="465.8" text-anchor="end">&#8722;15</text>
<line x1="265.8" y1="435.7" x2="269" y2="435.7" stroke="#8c8c8c" stroke-width="0.8"/>
<text x="261.9" y="438.8" text-anchor="end">&#8722;10</text>
<line x1="265.8" y1="408.7" x2="269" y2="408.7" stroke="#8c8c8c" stroke-width="0.8"/>
<text x="261.9" y="411.8" text-anchor="end">&#8722;5</text>
<line x1="265.8" y1="381.7" x2="269" y2="381.7" stroke="#8c8c8c" stroke-width="0.8"/>
<text x="261.9" y="384.8" text-anchor="end">0</text>
<line x1="269" y1="381.7" x2="430.5" y2="381.7" stroke="#bdbdbd" stroke-width="1.2"/>
<line x1="283.4" y1="381.7" x2="283.4" y2="378.9" stroke="#999" stroke-width="0.7"/>
<text x="283.4" y="374.3" text-anchor="middle">1</text>
<line x1="305.48" y1="381.7" x2="305.48" y2="378.9" stroke="#999" stroke-width="0.7"/>
<text x="305.48" y="374.3" text-anchor="middle">2</text>
<line x1="327.56" y1="381.7" x2="327.56" y2="378.9" stroke="#999" stroke-width="0.7"/>
<text x="327.56" y="374.3" text-anchor="middle">3</text>
<line x1="349.64" y1="381.7" x2="349.64" y2="378.9" stroke="#999" stroke-width="0.7"/>
<text x="349.64" y="374.3" text-anchor="middle">4</text>
<line x1="371.72" y1="381.7" x2="371.72" y2="378.9" stroke="#999" stroke-width="0.7"/>
<text x="371.72" y="374.3" text-anchor="middle">5</text>
<line x1="393.8" y1="381.7" x2="393.8" y2="378.9" stroke="#999" stroke-width="0.7"/>
<text x="393.8" y="374.3" text-anchor="middle">6</text>
<line x1="415.88" y1="381.7" x2="415.88" y2="378.9" stroke="#999" stroke-width="0.7"/>
<text x="415.88" y="374.3" text-anchor="middle">7</text>
<text x="350.2" y="363.1" text-anchor="middle">Days</text>
<text x="240" y="436" text-anchor="middle" transform="rotate(-90 240 436)">Body weight change (%)</text>
<line x1="305.48" y1="382.24" x2="305.48" y2="384.4" stroke="#8a8a8a" stroke-width="0.8"/>
<line x1="302.88" y1="382.24" x2="308.08" y2="382.24" stroke="#8a8a8a" stroke-width="0.8"/>
<line x1="302.88" y1="384.4" x2="308.08" y2="384.4" stroke="#8a8a8a" stroke-width="0.8"/>
<line x1="327.56" y1="384.94" x2="327.56" y2="390.34" stroke="#8a8a8a" stroke-width="0.8"/>
<line x1="324.96" y1="384.94" x2="330.16" y2="384.94" stroke="#8a8a8a" stroke-width="0.8"/>
<line x1="324.96" y1="390.34" x2="330.16" y2="390.34" stroke="#8a8a8a" stroke-width="0.8"/>
<line x1="349.64" y1="382.24" x2="349.64" y2="390.88" stroke="#8a8a8a" stroke-width="0.8"/>
<line x1="347.04" y1="382.24" x2="352.24" y2="382.24" stroke="#8a8a8a" stroke-width="0.8"/>
<line x1="347.04" y1="390.88" x2="352.24" y2="390.88" stroke="#8a8a8a" stroke-width="0.8"/>
<line x1="371.72" y1="387.64" x2="371.72" y2="391.96" stroke="#8a8a8a" stroke-width="0.8"/>
<line x1="369.12" y1="387.64" x2="374.32" y2="387.64" stroke="#8a8a8a" stroke-width="0.8"/>
<line x1="369.12" y1="391.96" x2="374.32" y2="391.96" stroke="#8a8a8a" stroke-width="0.8"/>
<line x1="393.8" y1="389.26" x2="393.8" y2="394.66" stroke="#8a8a8a" stroke-width="0.8"/>
<line x1="391.2" y1="389.26" x2="396.4" y2="389.26" stroke="#8a8a8a" stroke-width="0.8"/>
<line x1="391.2" y1="394.66" x2="396.4" y2="394.66" stroke="#8a8a8a" stroke-width="0.8"/>
<line x1="415.88" y1="393.04" x2="415.88" y2="396.28" stroke="#8a8a8a" stroke-width="0.8"/>
<line x1="413.28" y1="393.04" x2="418.48" y2="393.04" stroke="#8a8a8a" stroke-width="0.8"/>
<line x1="413.28" y1="396.28" x2="418.48" y2="396.28" stroke="#8a8a8a" stroke-width="0.8"/>
<polyline points="283.4,381.7 305.48,383.32 327.56,387.64 349.64,386.56 371.72,389.8 393.8,391.96 415.88,394.66" fill="none" stroke="#8c8c8c" stroke-width="0.9"/>
<circle cx="283.4" cy="381.7" r="2.3" fill="#7a7a7a"/>
<circle cx="305.48" cy="383.32" r="2.3" fill="#7a7a7a"/>
<circle cx="327.56" cy="387.64" r="2.3" fill="#7a7a7a"/>
<circle cx="349.64" cy="386.56" r="2.3" fill="#7a7a7a"/>
<circle cx="371.72" cy="389.8" r="2.3" fill="#7a7a7a"/>
<circle cx="393.8" cy="391.96" r="2.3" fill="#7a7a7a"/>
<circle cx="415.88" cy="394.66" r="2.3" fill="#7a7a7a"/>
<line x1="305.48" y1="401.68" x2="305.48" y2="404.92" stroke="#dc7800" stroke-width="0.8"/>
<line x1="302.88" y1="401.68" x2="308.08" y2="401.68" stroke="#dc7800" stroke-width="0.8"/>
<line x1="302.88" y1="404.92" x2="308.08" y2="404.92" stroke="#dc7800" stroke-width="0.8"/>
<line x1="327.56" y1="416.8" x2="327.56" y2="420.04" stroke="#dc7800" stroke-width="0.8"/>
<line x1="324.96" y1="416.8" x2="330.16" y2="416.8" stroke="#dc7800" stroke-width="0.8"/>
<line x1="324.96" y1="420.04" x2="330.16" y2="420.04" stroke="#dc7800" stroke-width="0.8"/>
<line x1="349.64" y1="430.3" x2="349.64" y2="433.54" stroke="#dc7800" stroke-width="0.8"/>
<line x1="347.04" y1="430.3" x2="352.24" y2="430.3" stroke="#dc7800" stroke-width="0.8"/>
<line x1="347.04" y1="433.54" x2="352.24" y2="433.54" stroke="#dc7800" stroke-width="0.8"/>
<line x1="371.72" y1="444.34" x2="371.72" y2="447.58" stroke="#dc7800" stroke-width="0.8"/>
<line x1="369.12" y1="444.34" x2="374.32" y2="444.34" stroke="#dc7800" stroke-width="0.8"/>
<line x1="369.12" y1="447.58" x2="374.32" y2="447.58" stroke="#dc7800" stroke-width="0.8"/>
<line x1="393.8" y1="457.84" x2="393.8" y2="461.08" stroke="#dc7800" stroke-width="0.8"/>
<line x1="391.2" y1="457.84" x2="396.4" y2="457.84" stroke="#dc7800" stroke-width="0.8"/>
<line x1="391.2" y1="461.08" x2="396.4" y2="461.08" stroke="#dc7800" stroke-width="0.8"/>
<line x1="415.88" y1="470.26" x2="415.88" y2="474.58" stroke="#dc7800" stroke-width="0.8"/>
<line x1="413.28" y1="470.26" x2="418.48" y2="470.26" stroke="#dc7800" stroke-width="0.8"/>
<line x1="413.28" y1="474.58" x2="418.48" y2="474.58" stroke="#dc7800" stroke-width="0.8"/>
<polyline points="283.4,381.7 305.48,403.3 327.56,418.42 349.64,431.92 371.72,445.96 393.8,459.46 415.88,472.42" fill="none" stroke="#dc7800" stroke-width="0.9"/>
<path d="M283.4 379.06L280.64 383.77L286.16 383.77Z" fill="#dc7800"/>
<path d="M305.48 400.66L302.72 405.37L308.24 405.37Z" fill="#dc7800"/>
<path d="M327.56 415.77L324.8 420.49L330.32 420.49Z" fill="#dc7800"/>
<path d="M349.64 429.28L346.88 433.99L352.4 433.99Z" fill="#dc7800"/>
<path d="M371.72 443.31L368.96 448.03L374.48 448.03Z" fill="#dc7800"/>
<path d="M393.8 456.81L391.04 461.53L396.56 461.53Z" fill="#dc7800"/>
<path d="M415.88 469.78L413.12 474.49L418.64 474.49Z" fill="#dc7800"/>
<line x1="305.48" y1="396.82" x2="305.48" y2="402.22" stroke="#333" stroke-width="0.8"/>
<line x1="302.88" y1="396.82" x2="308.08" y2="396.82" stroke="#333" stroke-width="0.8"/>
<line x1="302.88" y1="402.22" x2="308.08" y2="402.22" stroke="#333" stroke-width="0.8"/>
<line x1="327.56" y1="415.18" x2="327.56" y2="419.5" stroke="#333" stroke-width="0.8"/>
<line x1="324.96" y1="415.18" x2="330.16" y2="415.18" stroke="#333" stroke-width="0.8"/>
<line x1="324.96" y1="419.5" x2="330.16" y2="419.5" stroke="#333" stroke-width="0.8"/>
<line x1="349.64" y1="430.84" x2="349.64" y2="435.16" stroke="#333" stroke-width="0.8"/>
<line x1="347.04" y1="430.84" x2="352.24" y2="430.84" stroke="#333" stroke-width="0.8"/>
<line x1="347.04" y1="435.16" x2="352.24" y2="435.16" stroke="#333" stroke-width="0.8"/>
<line x1="371.72" y1="443.26" x2="371.72" y2="447.58" stroke="#333" stroke-width="0.8"/>
<line x1="369.12" y1="443.26" x2="374.32" y2="443.26" stroke="#333" stroke-width="0.8"/>
<line x1="369.12" y1="447.58" x2="374.32" y2="447.58" stroke="#333" stroke-width="0.8"/>
<line x1="393.8" y1="455.68" x2="393.8" y2="461.08" stroke="#333" stroke-width="0.8"/>
<line x1="391.2" y1="455.68" x2="396.4" y2="455.68" stroke="#333" stroke-width="0.8"/>
<line x1="391.2" y1="461.08" x2="396.4" y2="461.08" stroke="#333" stroke-width="0.8"/>
<line x1="415.88" y1="462.7" x2="415.88" y2="469.18" stroke="#333" stroke-width="0.8"/>
<line x1="413.28" y1="462.7" x2="418.48" y2="462.7" stroke="#333" stroke-width="0.8"/>
<line x1="413.28" y1="469.18" x2="418.48" y2="469.18" stroke="#333" stroke-width="0.8"/>
<polyline points="283.4,381.7 305.48,399.52 327.56,417.34 349.64,433 371.72,445.42 393.8,458.38 415.88,465.94" fill="none" stroke="#000" stroke-width="0.9"/>
<rect x="281.1" y="379.4" width="4.6" height="4.6" fill="#000"/>
<rect x="303.18" y="397.22" width="4.6" height="4.6" fill="#000"/>
<rect x="325.26" y="415.04" width="4.6" height="4.6" fill="#000"/>
<rect x="347.34" y="430.7" width="4.6" height="4.6" fill="#000"/>
<rect x="369.42" y="443.12" width="4.6" height="4.6" fill="#000"/>
<rect x="391.5" y="456.08" width="4.6" height="4.6" fill="#000"/>
<rect x="413.58" y="463.64" width="4.6" height="4.6" fill="#000"/>
<line x1="305.48" y1="396.28" x2="305.48" y2="401.68" stroke="#bd1a08" stroke-width="0.8"/>
<line x1="302.88" y1="396.28" x2="308.08" y2="396.28" stroke="#bd1a08" stroke-width="0.8"/>
<line x1="302.88" y1="401.68" x2="308.08" y2="401.68" stroke="#bd1a08" stroke-width="0.8"/>
<line x1="327.56" y1="413.56" x2="327.56" y2="417.88" stroke="#bd1a08" stroke-width="0.8"/>
<line x1="324.96" y1="413.56" x2="330.16" y2="413.56" stroke="#bd1a08" stroke-width="0.8"/>
<line x1="324.96" y1="417.88" x2="330.16" y2="417.88" stroke="#bd1a08" stroke-width="0.8"/>
<line x1="349.64" y1="428.14" x2="349.64" y2="432.46" stroke="#bd1a08" stroke-width="0.8"/>
<line x1="347.04" y1="428.14" x2="352.24" y2="428.14" stroke="#bd1a08" stroke-width="0.8"/>
<line x1="347.04" y1="432.46" x2="352.24" y2="432.46" stroke="#bd1a08" stroke-width="0.8"/>
<line x1="371.72" y1="441.64" x2="371.72" y2="445.96" stroke="#bd1a08" stroke-width="0.8"/>
<line x1="369.12" y1="441.64" x2="374.32" y2="441.64" stroke="#bd1a08" stroke-width="0.8"/>
<line x1="369.12" y1="445.96" x2="374.32" y2="445.96" stroke="#bd1a08" stroke-width="0.8"/>
<line x1="393.8" y1="456.22" x2="393.8" y2="461.62" stroke="#bd1a08" stroke-width="0.8"/>
<line x1="391.2" y1="456.22" x2="396.4" y2="456.22" stroke="#bd1a08" stroke-width="0.8"/>
<line x1="391.2" y1="461.62" x2="396.4" y2="461.62" stroke="#bd1a08" stroke-width="0.8"/>
<line x1="415.88" y1="465.94" x2="415.88" y2="472.42" stroke="#bd1a08" stroke-width="0.8"/>
<line x1="413.28" y1="465.94" x2="418.48" y2="465.94" stroke="#bd1a08" stroke-width="0.8"/>
<line x1="413.28" y1="472.42" x2="418.48" y2="472.42" stroke="#bd1a08" stroke-width="0.8"/>
<polyline points="283.4,381.7 305.48,398.98 327.56,415.72 349.64,430.3 371.72,443.8 393.8,458.92 415.88,469.18" fill="none" stroke="#bd1a08" stroke-width="0.9"/>
<path d="M283.4 384.34L280.64 379.63L286.16 379.63Z" fill="#bd1a08"/>
<path d="M305.48 401.62L302.72 396.91L308.24 396.91Z" fill="#bd1a08"/>
<path d="M327.56 418.36L324.8 413.65L330.32 413.65Z" fill="#bd1a08"/>
<path d="M349.64 432.94L346.88 428.23L352.4 428.23Z" fill="#bd1a08"/>
<path d="M371.72 446.44L368.96 441.73L374.48 441.73Z" fill="#bd1a08"/>
<path d="M393.8 461.56L391.04 456.85L396.56 456.85Z" fill="#bd1a08"/>
<path d="M415.88 471.82L413.12 467.11L418.64 467.11Z" fill="#bd1a08"/>
<line x1="424.3" y1="394.3" x2="427" y2="394.3" stroke="#222" stroke-width="0.85"/>
<line x1="425" y1="470" x2="427.5" y2="470" stroke="#222" stroke-width="0.85"/>
<line x1="428.7" y1="394.3" x2="428.7" y2="470.5" stroke="#222" stroke-width="0.85" stroke-dasharray="3,2.2"/>
<text x="428.6" y="432.9" text-anchor="middle" font-size="10.2" transform="rotate(90 428.6 432.9)" letter-spacing="0.6">***</text>
<rect x="273.2" y="445.2" width="90.5" height="52" fill="#fff" stroke="#999" stroke-width="0.7"/>
<line x1="276.4" y1="454.6" x2="287" y2="454.6" stroke="#bbbbbb" stroke-width="1"/>
<circle cx="281.7" cy="454.6" r="2" fill="#7a7a7a"/>
<text x="290.8" y="457.6"><tspan font-style="italic" stroke="#000" stroke-width="0.12" letter-spacing="0.15">Il1r1</tspan><tspan dy="-4.2" font-size="5.98">+/+</tspan><tspan dy="4.2" dx="0.6">&#8211;Veh</tspan></text>
<line x1="276.4" y1="466.8" x2="287" y2="466.8" stroke="#000" stroke-width="1"/>
<rect x="279.7" y="464.8" width="4" height="4" fill="#000"/>
<text x="290.8" y="469.8"><tspan font-style="italic" stroke="#000" stroke-width="0.12" letter-spacing="0.15">Il1r1</tspan><tspan dy="-4.2" font-size="5.98">+/+</tspan><tspan dy="4.2" dx="0.6">&#8211;Cel</tspan></text>
<line x1="276.4" y1="477.8" x2="287" y2="477.8" stroke="#f0b878" stroke-width="1"/>
<path d="M281.7 475.5L279.3 479.6L284.1 479.6Z" fill="#dc7800"/>
<text x="290.8" y="480.8"><tspan font-style="italic" stroke="#000" stroke-width="0.12" letter-spacing="0.15">Il1r1</tspan><tspan dy="-4.2" font-size="5.98">&#8211;/&#8211;</tspan><tspan dy="4.2" dx="0.6">&#8211;Veh + FR</tspan></text>
<line x1="276.4" y1="488.9" x2="287" y2="488.9" stroke="#bd1a08" stroke-width="1"/>
<path d="M281.7 491.2L279.3 487.1L284.1 487.1Z" fill="#bd1a08"/>
<text x="290.8" y="491.9"><tspan font-style="italic" stroke="#000" stroke-width="0.12" letter-spacing="0.15">Il1r1</tspan><tspan dy="-4.2" font-size="5.98">&#8211;/&#8211;</tspan><tspan dy="4.2" dx="0.6">&#8211;Cel + FR</tspan></text>
<text x="235.6" y="531" font-weight="bold" font-size="10.5">h</text>
<line x1="268.6" y1="554.7" x2="268.6" y2="660.7" stroke="#8c8c8c" stroke-width="0.8"/>
<line x1="265.4" y1="660.7" x2="268.6" y2="660.7" stroke="#8c8c8c" stroke-width="0.8"/>
<text x="261.5" y="663.8" text-anchor="end">0</text>
<line x1="265.4" y1="634.2" x2="268.6" y2="634.2" stroke="#8c8c8c" stroke-width="0.8"/>
<text x="261.5" y="637.3" text-anchor="end">50</text>
<line x1="265.4" y1="607.7" x2="268.6" y2="607.7" stroke="#8c8c8c" stroke-width="0.8"/>
<text x="261.5" y="610.8" text-anchor="end">100</text>
<line x1="265.4" y1="581.2" x2="268.6" y2="581.2" stroke="#8c8c8c" stroke-width="0.8"/>
<text x="261.5" y="584.3" text-anchor="end">150</text>
<line x1="265.4" y1="554.7" x2="268.6" y2="554.7" stroke="#8c8c8c" stroke-width="0.8"/>
<text x="261.5" y="557.8" text-anchor="end">200</text>
<line x1="268.6" y1="660.7" x2="427.3" y2="660.7" stroke="#bdbdbd" stroke-width="1.2"/>
<line x1="305.3" y1="660.7" x2="305.3" y2="663.4" stroke="#888" stroke-width="0.7"/>
<line x1="390.4" y1="660.7" x2="390.4" y2="663.4" stroke="#888" stroke-width="0.7"/>
<text x="305.3" y="675.2" text-anchor="middle"><tspan font-style="italic" stroke="#000" stroke-width="0.12" letter-spacing="0.15">Il1r1</tspan><tspan dy="-4.2" font-size="5.98">+/+</tspan><tspan dy="4.2" dx="0.6"></tspan></text>
<text x="390.4" y="675.2" text-anchor="middle"><tspan font-style="italic" stroke="#000" stroke-width="0.12" letter-spacing="0.15">Il1r1</tspan><tspan dy="-4.2" font-size="5.98">&#8211;/&#8211;</tspan><tspan dy="4.2" dx="0.6">+FR</tspan></text>
<text x="240.2" y="607.5" text-anchor="middle" transform="rotate(-90 240.2 607.5)">Blood glucose (mg/dl)</text>
<rect x="279.2" y="576.01" width="21.1" height="84.69" fill="#000"/>
<line x1="289.75" y1="576.01" x2="289.75" y2="570.81" stroke="#000" stroke-width="0.8"/>
<line x1="284.35" y1="570.81" x2="295.15" y2="570.81" stroke="#000" stroke-width="0.8"/>
<circle cx="289.6" cy="564" r="2.3" fill="#000" stroke="#fff" stroke-width="0.6"/>
<circle cx="293.3" cy="566.8" r="2.3" fill="#000" stroke="#fff" stroke-width="0.6"/>
<circle cx="286.4" cy="572.1" r="2.3" fill="#000" stroke="#fff" stroke-width="0.6"/>
<circle cx="286.4" cy="580" r="2.45" fill="none" stroke="#fff" stroke-width="0.95"/>
<circle cx="293.3" cy="580.5" r="2.45" fill="none" stroke="#fff" stroke-width="0.95"/>
<circle cx="290" cy="592.3" r="2.45" fill="none" stroke="#fff" stroke-width="0.95"/>
<rect x="311.1" y="607.91" width="21.2" height="52.79" fill="#b01800"/>
<line x1="321.7" y1="607.91" x2="321.7" y2="606.59" stroke="#b01800" stroke-width="0.8"/>
<line x1="316.3" y1="606.59" x2="327.1" y2="606.59" stroke="#b01800" stroke-width="0.8"/>
<circle cx="313.7" cy="604.2" r="2.3" fill="#b01800" stroke="#fff" stroke-width="0.6"/>
<circle cx="319" cy="605.6" r="2.3" fill="#b01800" stroke="#fff" stroke-width="0.6"/>
<circle cx="324.3" cy="607.5" r="2.3" fill="#b01800" stroke="#fff" stroke-width="0.6"/>
<circle cx="329.4" cy="604.2" r="2.3" fill="#b01800" stroke="#fff" stroke-width="0.6"/>
<circle cx="324.7" cy="611.3" r="2.45" fill="none" stroke="#fff" stroke-width="0.95"/>
<circle cx="318.4" cy="614.3" r="2.45" fill="none" stroke="#fff" stroke-width="0.95"/>
<rect x="364.1" y="603.88" width="20.9" height="56.82" fill="#000"/>
<line x1="374.55" y1="603.88" x2="374.55" y2="599.11" stroke="#000" stroke-width="0.8"/>
<line x1="369.15" y1="599.11" x2="379.95" y2="599.11" stroke="#000" stroke-width="0.8"/>
<circle cx="371.3" cy="592.7" r="2.3" fill="#000" stroke="#fff" stroke-width="0.6"/>
<circle cx="377.7" cy="589.5" r="2.3" fill="#000" stroke="#fff" stroke-width="0.6"/>
<circle cx="374.4" cy="603.9" r="2.45" fill="none" stroke="#fff" stroke-width="0.95"/>
<circle cx="367.9" cy="610.5" r="2.45" fill="none" stroke="#fff" stroke-width="0.95"/>
<circle cx="374.4" cy="615" r="2.45" fill="none" stroke="#fff" stroke-width="0.95"/>
<circle cx="381" cy="612.4" r="2.45" fill="none" stroke="#fff" stroke-width="0.95"/>
<rect x="395.8" y="602.29" width="20.9" height="58.41" fill="#b01800"/>
<line x1="406.25" y1="602.29" x2="406.25" y2="599.11" stroke="#b01800" stroke-width="0.8"/>
<line x1="400.85" y1="599.11" x2="411.65" y2="599.11" stroke="#b01800" stroke-width="0.8"/>
<circle cx="399.9" cy="596.2" r="2.3" fill="#b01800" stroke="#fff" stroke-width="0.6"/>
<circle cx="406.2" cy="597.4" r="2.3" fill="#b01800" stroke="#fff" stroke-width="0.6"/>
<circle cx="412.7" cy="593.3" r="2.3" fill="#b01800" stroke="#fff" stroke-width="0.6"/>
<circle cx="400" cy="606.1" r="2.45" fill="none" stroke="#fff" stroke-width="0.95"/>
<circle cx="406.6" cy="610.9" r="2.45" fill="none" stroke="#fff" stroke-width="0.95"/>
<circle cx="412.9" cy="610.3" r="2.45" fill="none" stroke="#fff" stroke-width="0.95"/>
<line x1="290.2" y1="538.5" x2="375.5" y2="538.5" stroke="#444" stroke-width="0.9" stroke-dasharray="2.7,2.5"/>
<line x1="290.2" y1="538.5" x2="290.2" y2="540.9" stroke="#444" stroke-width="0.75"/>
<line x1="375.5" y1="538.5" x2="375.5" y2="540.9" stroke="#444" stroke-width="0.75"/>
<text x="335.2" y="538.9" text-anchor="middle" font-size="10.2" letter-spacing="0.6">***</text>
<line x1="289.6" y1="553.5" x2="321.4" y2="553.5" stroke="#444" stroke-width="0.9" stroke-dasharray="2.7,2.5"/>
<line x1="289.6" y1="553.5" x2="289.6" y2="555.9" stroke="#444" stroke-width="0.75"/>
<line x1="321.4" y1="553.5" x2="321.4" y2="555.9" stroke="#444" stroke-width="0.75"/>
<text x="305.7" y="554.2" text-anchor="middle" font-size="10.2" letter-spacing="0.6">***</text>
<line x1="376" y1="553.5" x2="407.3" y2="553.5" stroke="#444" stroke-width="0.9" stroke-dasharray="2.7,2.5"/>
<line x1="376" y1="553.5" x2="376" y2="555.9" stroke="#444" stroke-width="0.75"/>
<line x1="407.3" y1="553.5" x2="407.3" y2="555.9" stroke="#444" stroke-width="0.75"/>
<text x="392.2" y="549" text-anchor="middle">n.s.</text>
<rect x="400.5" y="524.5" width="27.2" height="21.5" fill="#fff" stroke="#999" stroke-width="0.7"/>
<circle cx="404.9" cy="531.5" r="2.2" fill="#000" stroke="#fff" stroke-width="0.6"/>
<text x="409.6" y="534.6">Veh</text>
<circle cx="404.9" cy="540.1" r="2.2" fill="#b01800" stroke="#fff" stroke-width="0.6"/>
<text x="409.6" y="543.2">Cel</text>
<text x="454.6" y="179.3" font-weight="bold" font-size="10.5">j</text>
<line x1="491.6" y1="210.7" x2="491.6" y2="318.7" stroke="#8c8c8c" stroke-width="0.8"/>
<line x1="488.4" y1="318.7" x2="491.6" y2="318.7" stroke="#8c8c8c" stroke-width="0.8"/>
<text x="484.5" y="321.8" text-anchor="end">0.0</text>
<line x1="488.4" y1="282.7" x2="491.6" y2="282.7" stroke="#8c8c8c" stroke-width="0.8"/>
<text x="484.5" y="285.8" text-anchor="end">0.5</text>
<line x1="488.4" y1="246.7" x2="491.6" y2="246.7" stroke="#8c8c8c" stroke-width="0.8"/>
<text x="484.5" y="249.8" text-anchor="end">1.0</text>
<line x1="488.4" y1="210.7" x2="491.6" y2="210.7" stroke="#8c8c8c" stroke-width="0.8"/>
<text x="484.5" y="213.8" text-anchor="end">1.5</text>
<line x1="491.6" y1="318.8" x2="654.5" y2="318.8" stroke="#bdbdbd" stroke-width="1.2"/>
<line x1="529.4" y1="318.8" x2="529.4" y2="321.5" stroke="#888" stroke-width="0.7"/>
<line x1="616.7" y1="318.8" x2="616.7" y2="321.5" stroke="#888" stroke-width="0.7"/>
<text x="529" y="332.4" text-anchor="middle">Veh</text>
<text x="616.7" y="332.4" text-anchor="middle">Cel</text>
<text x="466.9" y="264.7" text-anchor="middle" transform="rotate(-90 466.9 264.7)">p-STAT3/STAT3</text>
<text x="574.6" y="193.5" text-anchor="middle"><tspan font-style="italic" stroke="#000" stroke-width="0.12" letter-spacing="0.15">Il1r1</tspan><tspan dy="-4.2" font-size="5.98">+/+</tspan><tspan dy="4.2" dx="0.6"></tspan></text>
<rect x="503" y="315.1" width="21.6" height="3.6" fill="#000"/>
<circle cx="507.1" cy="314.1" r="2.3" fill="#000" stroke="#fff" stroke-width="0.6"/>
<circle cx="513.6" cy="316.2" r="2.3" fill="#000" stroke="#fff" stroke-width="0.6"/>
<circle cx="520" cy="315.5" r="2.3" fill="#000" stroke="#fff" stroke-width="0.6"/>
<rect x="535.2" y="296.88" width="21.8" height="21.82" fill="#b01800"/>
<line x1="546.1" y1="296.88" x2="546.1" y2="291.12" stroke="#b01800" stroke-width="0.8"/>
<line x1="540.7" y1="291.12" x2="551.5" y2="291.12" stroke="#b01800" stroke-width="0.8"/>
<circle cx="546.1" cy="285.5" r="2.3" fill="#b01800" stroke="#fff" stroke-width="0.6"/>
<circle cx="549.5" cy="299.8" r="2.45" fill="none" stroke="#fff" stroke-width="0.95"/>
<circle cx="542.8" cy="304.7" r="2.45" fill="none" stroke="#fff" stroke-width="0.95"/>
<rect x="589.8" y="299.4" width="21.7" height="19.3" fill="#000"/>
<line x1="600.65" y1="299.4" x2="600.65" y2="293.64" stroke="#000" stroke-width="0.8"/>
<line x1="595.25" y1="293.64" x2="606.05" y2="293.64" stroke="#000" stroke-width="0.8"/>
<circle cx="600.5" cy="288.3" r="2.3" fill="#000" stroke="#fff" stroke-width="0.6"/>
<circle cx="603.5" cy="301.8" r="2.45" fill="none" stroke="#fff" stroke-width="0.95"/>
<circle cx="597.2" cy="307.3" r="2.45" fill="none" stroke="#fff" stroke-width="0.95"/>
<rect x="622.2" y="256.28" width="21.8" height="62.42" fill="#b01800"/>
<line x1="633.1" y1="256.28" x2="633.1" y2="244.4" stroke="#b01800" stroke-width="0.8"/>
<line x1="627.7" y1="244.4" x2="638.5" y2="244.4" stroke="#b01800" stroke-width="0.8"/>
<circle cx="633" cy="233.2" r="2.3" fill="#b01800" stroke="#fff" stroke-width="0.6"/>
<circle cx="633" cy="261.6" r="2.45" fill="none" stroke="#fff" stroke-width="0.95"/>
<circle cx="633" cy="273.7" r="2.45" fill="none" stroke="#fff" stroke-width="0.95"/>
<line x1="551.9" y1="210.5" x2="633.5" y2="210.5" stroke="#444" stroke-width="0.9" stroke-dasharray="2.7,2.5"/>
<line x1="551.9" y1="210.5" x2="551.9" y2="212.9" stroke="#444" stroke-width="0.75"/>
<line x1="633.5" y1="210.5" x2="633.5" y2="212.9" stroke="#444" stroke-width="0.75"/>
<text x="594.4" y="210.4" text-anchor="middle" font-size="10.2" letter-spacing="0.6">*</text>
<line x1="600.2" y1="226.5" x2="633" y2="226.5" stroke="#444" stroke-width="0.9" stroke-dasharray="2.7,2.5"/>
<line x1="600.2" y1="226.5" x2="600.2" y2="228.9" stroke="#444" stroke-width="0.75"/>
<line x1="633" y1="226.5" x2="633" y2="228.9" stroke="#444" stroke-width="0.75"/>
<text x="616.9" y="226.9" text-anchor="middle" font-size="10.2" letter-spacing="0.6">*</text>
<line x1="519.3" y1="245.5" x2="600.2" y2="245.5" stroke="#444" stroke-width="0.9" stroke-dasharray="2.7,2.5"/>
<line x1="519.3" y1="245.5" x2="519.3" y2="247.9" stroke="#444" stroke-width="0.75"/>
<line x1="600.2" y1="245.5" x2="600.2" y2="247.9" stroke="#444" stroke-width="0.75"/>
<text x="564.1" y="242.5" text-anchor="middle">n.s.</text>
<line x1="513.4" y1="278.5" x2="545.8" y2="278.5" stroke="#444" stroke-width="0.9" stroke-dasharray="2.7,2.5"/>
<line x1="513.4" y1="278.5" x2="513.4" y2="280.9" stroke="#444" stroke-width="0.75"/>
<line x1="545.8" y1="278.5" x2="545.8" y2="280.9" stroke="#444" stroke-width="0.75"/>
<text x="530.8" y="274.5" text-anchor="middle">n.s.</text>
<rect x="637" y="179.3" width="29.4" height="22" fill="#fff" stroke="#999" stroke-width="0.7"/>
<circle cx="641.4" cy="185" r="2.2" fill="#000" stroke="#fff" stroke-width="0.6"/>
<text x="646.1" y="188.1">Sal</text>
<circle cx="641.4" cy="195.5" r="2.2" fill="#b01800" stroke="#fff" stroke-width="0.6"/>
<text x="646.1" y="198.6">Lep</text>
<text x="453.6" y="362.6" font-weight="bold" font-size="10.5">k</text>
<line x1="491.7" y1="381.95" x2="491.7" y2="491.2" stroke="#8c8c8c" stroke-width="0.8"/>
<line x1="488.5" y1="491.2" x2="491.7" y2="491.2" stroke="#8c8c8c" stroke-width="0.8"/>
<text x="484.6" y="494.3" text-anchor="end">0.0</text>
<line x1="488.5" y1="469.35" x2="491.7" y2="469.35" stroke="#8c8c8c" stroke-width="0.8"/>
<text x="484.6" y="472.45" text-anchor="end">0.5</text>
<line x1="488.5" y1="447.5" x2="491.7" y2="447.5" stroke="#8c8c8c" stroke-width="0.8"/>
<text x="484.6" y="450.6" text-anchor="end">1.0</text>
<line x1="488.5" y1="425.65" x2="491.7" y2="425.65" stroke="#8c8c8c" stroke-width="0.8"/>
<text x="484.6" y="428.75" text-anchor="end">1.5</text>
<line x1="488.5" y1="403.8" x2="491.7" y2="403.8" stroke="#8c8c8c" stroke-width="0.8"/>
<text x="484.6" y="406.9" text-anchor="end">2.0</text>
<line x1="488.5" y1="381.95" x2="491.7" y2="381.95" stroke="#8c8c8c" stroke-width="0.8"/>
<text x="484.6" y="385.05" text-anchor="end">2.5</text>
<line x1="491.7" y1="491.2" x2="654.5" y2="491.2" stroke="#bdbdbd" stroke-width="1.2"/>
<line x1="529.4" y1="491.2" x2="529.4" y2="493.9" stroke="#888" stroke-width="0.7"/>
<line x1="616.7" y1="491.2" x2="616.7" y2="493.9" stroke="#888" stroke-width="0.7"/>
<text x="529" y="504" text-anchor="middle">Veh</text>
<text x="616.7" y="504" text-anchor="middle">Cel</text>
<text x="464.4" y="436.8" text-anchor="middle" transform="rotate(-90 464.4 436.8)">p-STAT3/STAT3</text>
<text x="580" y="365.5" text-anchor="middle"><tspan font-style="italic" stroke="#000" stroke-width="0.12" letter-spacing="0.15">Il1r1</tspan><tspan dy="-4.2" font-size="5.98">&#8211;/&#8211;</tspan><tspan dy="4.2" dx="0.6">+FR</tspan></text>
<rect x="502.1" y="480.71" width="21.7" height="10.49" fill="#000"/>
<line x1="512.95" y1="480.71" x2="512.95" y2="479.4" stroke="#000" stroke-width="0.8"/>
<line x1="507.55" y1="479.4" x2="518.35" y2="479.4" stroke="#000" stroke-width="0.8"/>
<circle cx="506.5" cy="477.7" r="2.3" fill="#000" stroke="#fff" stroke-width="0.6"/>
<circle cx="519.4" cy="480.4" r="2.3" fill="#000" stroke="#fff" stroke-width="0.6"/>
<circle cx="512.7" cy="483.3" r="2.45" fill="none" stroke="#fff" stroke-width="0.95"/>
<rect x="535.2" y="436.4" width="21.5" height="54.8" fill="#b01800"/>
<line x1="545.95" y1="436.4" x2="545.95" y2="428.53" stroke="#b01800" stroke-width="0.8"/>
<line x1="540.55" y1="428.53" x2="551.35" y2="428.53" stroke="#b01800" stroke-width="0.8"/>
<circle cx="545.7" cy="422.6" r="2.3" fill="#b01800" stroke="#fff" stroke-width="0.6"/>
<circle cx="545.7" cy="436.6" r="2.45" fill="none" stroke="#fff" stroke-width="0.95"/>
<circle cx="545.7" cy="449.6" r="2.45" fill="none" stroke="#fff" stroke-width="0.95"/>
<rect x="589.4" y="485.96" width="22.2" height="5.24" fill="#000"/>
<circle cx="594" cy="484.5" r="2.3" fill="#000" stroke="#fff" stroke-width="0.6"/>
<circle cx="606.9" cy="485.4" r="2.3" fill="#000" stroke="#fff" stroke-width="0.6"/>
<circle cx="600.5" cy="487.7" r="2.45" fill="none" stroke="#fff" stroke-width="0.95"/>
<rect x="622.3" y="422.15" width="21.6" height="69.05" fill="#b01800"/>
<line x1="633.1" y1="422.15" x2="633.1" y2="412.1" stroke="#b01800" stroke-width="0.8"/>
<line x1="627.7" y1="412.1" x2="638.5" y2="412.1" stroke="#b01800" stroke-width="0.8"/>
<circle cx="633.3" cy="402.5" r="2.3" fill="#b01800" stroke="#fff" stroke-width="0.6"/>
<circle cx="630" cy="432.4" r="2.45" fill="none" stroke="#fff" stroke-width="0.95"/>
<circle cx="636.5" cy="430" r="2.45" fill="none" stroke="#fff" stroke-width="0.95"/>
<line x1="546.6" y1="380.5" x2="632.2" y2="380.5" stroke="#444" stroke-width="0.9" stroke-dasharray="2.7,2.5"/>
<line x1="546.6" y1="380.5" x2="546.6" y2="382.9" stroke="#444" stroke-width="0.75"/>
<line x1="632.2" y1="380.5" x2="632.2" y2="382.9" stroke="#444" stroke-width="0.75"/>
<text x="591.5" y="377" text-anchor="middle">n.s.</text>
<line x1="513.5" y1="401.5" x2="599.5" y2="401.5" stroke="#444" stroke-width="0.9" stroke-dasharray="2.7,2.5"/>
<line x1="513.5" y1="401.5" x2="513.5" y2="403.9" stroke="#444" stroke-width="0.75"/>
<line x1="599.5" y1="401.5" x2="599.5" y2="403.9" stroke="#444" stroke-width="0.75"/>
<text x="558.9" y="397.5" text-anchor="middle">n.s.</text>
<line x1="600.1" y1="396.5" x2="632.8" y2="396.5" stroke="#444" stroke-width="0.9" stroke-dasharray="2.7,2.5"/>
<line x1="600.1" y1="396.5" x2="600.1" y2="398.9" stroke="#444" stroke-width="0.75"/>
<line x1="632.8" y1="396.5" x2="632.8" y2="398.9" stroke="#444" stroke-width="0.75"/>
<text x="616.9" y="396.8" text-anchor="middle" font-size="10.2" letter-spacing="0.6">***</text>
<line x1="513.5" y1="414.5" x2="545.2" y2="414.5" stroke="#444" stroke-width="0.9" stroke-dasharray="2.7,2.5"/>
<line x1="513.5" y1="414.5" x2="513.5" y2="416.9" stroke="#444" stroke-width="0.75"/>
<line x1="545.2" y1="414.5" x2="545.2" y2="416.9" stroke="#444" stroke-width="0.75"/>
<text x="529.8" y="416.1" text-anchor="middle" font-size="10.2" letter-spacing="0.6">**</text>
<rect x="637.5" y="375" width="28.9" height="21.8" fill="#fff" stroke="#999" stroke-width="0.7"/>
<circle cx="641.9" cy="380.6" r="2.2" fill="#000" stroke="#fff" stroke-width="0.6"/>
<text x="646.6" y="383.7">Sal</text>
<circle cx="641.9" cy="391.3" r="2.2" fill="#b01800" stroke="#fff" stroke-width="0.6"/>
<text x="646.6" y="394.4">Lep</text>
<text x="453.6" y="530.9" font-weight="bold" font-size="10.5">l</text>
<line x1="490.5" y1="551.6" x2="490.5" y2="660.2" stroke="#8c8c8c" stroke-width="0.8"/>
<line x1="487.3" y1="660.2" x2="490.5" y2="660.2" stroke="#8c8c8c" stroke-width="0.8"/>
<text x="483.4" y="663.3" text-anchor="end">0</text>
<line x1="487.3" y1="624" x2="490.5" y2="624" stroke="#8c8c8c" stroke-width="0.8"/>
<text x="483.4" y="627.1" text-anchor="end">10</text>
<line x1="487.3" y1="587.8" x2="490.5" y2="587.8" stroke="#8c8c8c" stroke-width="0.8"/>
<text x="483.4" y="590.9" text-anchor="end">20</text>
<line x1="487.3" y1="551.6" x2="490.5" y2="551.6" stroke="#8c8c8c" stroke-width="0.8"/>
<text x="483.4" y="554.7" text-anchor="end">30</text>
<line x1="490.5" y1="660.3" x2="654.5" y2="660.3" stroke="#bdbdbd" stroke-width="1.2"/>
<line x1="529.4" y1="660.3" x2="529.4" y2="663" stroke="#888" stroke-width="0.7"/>
<line x1="615.2" y1="660.3" x2="615.2" y2="663" stroke="#888" stroke-width="0.7"/>
<text x="529" y="675.2" text-anchor="middle"><tspan font-style="italic" stroke="#000" stroke-width="0.12" letter-spacing="0.15">Il1r1</tspan><tspan dy="-4.2" font-size="5.98">+/+</tspan><tspan dy="4.2" dx="0.6"></tspan></text>
<text x="615" y="675.2" text-anchor="middle"><tspan font-style="italic" stroke="#000" stroke-width="0.12" letter-spacing="0.15">Il1r1</tspan><tspan dy="-4.2" font-size="5.98">&#8211;/&#8211;</tspan><tspan dy="4.2" dx="0.6">+FR</tspan></text>
<text x="462.2" y="605.8" text-anchor="middle" transform="rotate(-90 462.2 605.8)">Normalized p-STAT3/STAT3</text>
<rect x="498.5" y="635.22" width="15.5" height="24.98" fill="#7a7a7a"/>
<line x1="506.25" y1="635.22" x2="506.25" y2="628.13" stroke="#7a7a7a" stroke-width="0.8"/>
<line x1="500.85" y1="628.13" x2="511.65" y2="628.13" stroke="#7a7a7a" stroke-width="0.8"/>
<circle cx="506.3" cy="621.6" r="2.3" fill="#7a7a7a" stroke="#fff" stroke-width="0.6"/>
<circle cx="509.5" cy="638.1" r="2.45" fill="none" stroke="#fff" stroke-width="0.95"/>
<circle cx="502.8" cy="644.3" r="2.45" fill="none" stroke="#fff" stroke-width="0.95"/>
<rect x="521.9" y="637.86" width="15.5" height="22.34" fill="#000"/>
<line x1="529.65" y1="637.86" x2="529.65" y2="631.49" stroke="#000" stroke-width="0.8"/>
<line x1="524.25" y1="631.49" x2="535.05" y2="631.49" stroke="#000" stroke-width="0.8"/>
<circle cx="529.6" cy="625.4" r="2.3" fill="#000" stroke="#fff" stroke-width="0.6"/>
<circle cx="532.6" cy="640.8" r="2.45" fill="none" stroke="#fff" stroke-width="0.95"/>
<circle cx="526.4" cy="647" r="2.45" fill="none" stroke="#fff" stroke-width="0.95"/>
<rect x="545.3" y="587.8" width="15.7" height="72.4" fill="#b01800"/>
<line x1="553.15" y1="587.8" x2="553.15" y2="573.68" stroke="#b01800" stroke-width="0.8"/>
<line x1="547.75" y1="573.68" x2="558.55" y2="573.68" stroke="#b01800" stroke-width="0.8"/>
<circle cx="553" cy="560.6" r="2.3" fill="#b01800" stroke="#fff" stroke-width="0.6"/>
<circle cx="553" cy="593.2" r="2.45" fill="none" stroke="#fff" stroke-width="0.95"/>
<circle cx="553" cy="608" r="2.45" fill="none" stroke="#fff" stroke-width="0.95"/>
<rect x="584.2" y="641.59" width="15.5" height="18.61" fill="#7a7a7a"/>
<line x1="591.95" y1="641.59" x2="591.95" y2="638.48" stroke="#7a7a7a" stroke-width="0.8"/>
<line x1="586.55" y1="638.48" x2="597.35" y2="638.48" stroke="#7a7a7a" stroke-width="0.8"/>
<circle cx="592" cy="636.5" r="2.3" fill="#7a7a7a" stroke="#fff" stroke-width="0.6"/>
<circle cx="595.1" cy="641.5" r="2.45" fill="none" stroke="#fff" stroke-width="0.95"/>
<circle cx="588.6" cy="646.3" r="2.45" fill="none" stroke="#fff" stroke-width="0.95"/>
<rect x="608.3" y="659.48" width="14.4" height="0.72" fill="#000"/>
<circle cx="610.8" cy="658.5" r="2.3" fill="#000" stroke="#fff" stroke-width="0.6"/>
<circle cx="615.2" cy="659.4" r="2.3" fill="#000" stroke="#fff" stroke-width="0.6"/>
<circle cx="620" cy="658.5" r="2.3" fill="#000" stroke="#fff" stroke-width="0.6"/>
<rect x="631.1" y="637.03" width="15.7" height="23.17" fill="#b01800"/>
<line x1="638.95" y1="637.03" x2="638.95" y2="633.52" stroke="#b01800" stroke-width="0.8"/>
<line x1="633.55" y1="633.52" x2="644.35" y2="633.52" stroke="#b01800" stroke-width="0.8"/>
<circle cx="638.8" cy="629.6" r="2.3" fill="#b01800" stroke="#fff" stroke-width="0.6"/>
<circle cx="635.3" cy="640.5" r="2.45" fill="none" stroke="#fff" stroke-width="0.95"/>
<circle cx="641.9" cy="639.3" r="2.45" fill="none" stroke="#fff" stroke-width="0.95"/>
<line x1="509.2" y1="539.5" x2="552.1" y2="539.5" stroke="#444" stroke-width="0.9" stroke-dasharray="2.7,2.5"/>
<line x1="509.2" y1="539.5" x2="509.2" y2="541.9" stroke="#444" stroke-width="0.75"/>
<line x1="552.1" y1="539.5" x2="552.1" y2="541.9" stroke="#444" stroke-width="0.75"/>
<text x="530.7" y="540.5" text-anchor="middle" font-size="10.2" letter-spacing="0.6">**</text>
<line x1="532.3" y1="552.5" x2="552.1" y2="552.5" stroke="#444" stroke-width="0.9" stroke-dasharray="2.7,2.5"/>
<line x1="532.3" y1="552.5" x2="532.3" y2="554.9" stroke="#444" stroke-width="0.75"/>
<line x1="552.1" y1="552.5" x2="552.1" y2="554.9" stroke="#444" stroke-width="0.75"/>
<text x="543.8" y="554.6" text-anchor="middle" font-size="10.2" letter-spacing="0.6">**</text>
<line x1="555.1" y1="552.5" x2="636" y2="552.5" stroke="#444" stroke-width="0.9" stroke-dasharray="2.7,2.5"/>
<line x1="555.1" y1="552.5" x2="555.1" y2="554.9" stroke="#444" stroke-width="0.75"/>
<line x1="636" y1="552.5" x2="636" y2="554.9" stroke="#444" stroke-width="0.75"/>
<text x="597.2" y="554.6" text-anchor="middle" font-size="10.2" letter-spacing="0.6">**</text>
<line x1="593.6" y1="592.5" x2="635.5" y2="592.5" stroke="#444" stroke-width="0.9" stroke-dasharray="2.7,2.5"/>
<line x1="593.6" y1="592.5" x2="593.6" y2="594.9" stroke="#444" stroke-width="0.75"/>
<line x1="635.5" y1="592.5" x2="635.5" y2="594.9" stroke="#444" stroke-width="0.75"/>
<text x="618.3" y="589.8" text-anchor="middle">n.s.</text>
<line x1="613.3" y1="611.5" x2="635.5" y2="611.5" stroke="#444" stroke-width="0.9" stroke-dasharray="2.7,2.5"/>
<line x1="613.3" y1="611.5" x2="613.3" y2="613.9" stroke="#444" stroke-width="0.75"/>
<line x1="635.5" y1="611.5" x2="635.5" y2="613.9" stroke="#444" stroke-width="0.75"/>
<text x="625" y="607.6" text-anchor="middle">n.s.</text>
<rect x="610.4" y="518" width="52.6" height="31.3" fill="#fff" stroke="#999" stroke-width="0.7"/>
<circle cx="614.9" cy="524.2" r="2.2" fill="#7a7a7a" stroke="#fff" stroke-width="0.6"/>
<text x="620.4" y="527.3">Veh + Lep</text>
<circle cx="614.9" cy="533.6" r="2.2" fill="#000" stroke="#fff" stroke-width="0.6"/>
<text x="620.4" y="536.7">Cel + Sal</text>
<circle cx="614.9" cy="543.5" r="2.2" fill="#b01800" stroke="#fff" stroke-width="0.6"/>
<text x="620.4" y="546.6">Cel + Lep</text>
</svg>
</body></html>
